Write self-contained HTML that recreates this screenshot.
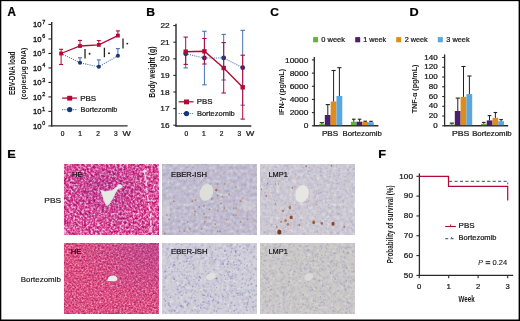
<!DOCTYPE html>
<html><head><meta charset="utf-8"><style>
html,body{margin:0;padding:0;background:#fff;}
svg{display:block;will-change:transform;}
text{font-family:"Liberation Sans",sans-serif;}
</style></head><body>
<svg width="520" height="321" viewBox="0 0 520 321">
<rect x="0" y="0" width="520" height="321" fill="#fff"/>
<text x="7.61" y="15.6" font-size="12.03" font-weight="bold" font-style="normal" fill="#000" textLength="8.41" lengthAdjust="spacingAndGlyphs" stroke="#000" stroke-width="0.24" >A</text>
<text x="146.21" y="15.5" font-size="11.74" font-weight="bold" font-style="normal" fill="#000" textLength="8.76" lengthAdjust="spacingAndGlyphs" stroke="#000" stroke-width="0.24" >B</text>
<text x="270.32" y="15.6" font-size="11.71" font-weight="bold" font-style="normal" fill="#000" textLength="8.6" lengthAdjust="spacingAndGlyphs" stroke="#000" stroke-width="0.24" >C</text>
<text x="409.58" y="15.5" font-size="11.74" font-weight="bold" font-style="normal" fill="#000" textLength="9.16" lengthAdjust="spacingAndGlyphs" stroke="#000" stroke-width="0.24" >D</text>
<text x="7.17" y="158.1" font-size="11.74" font-weight="bold" font-style="normal" fill="#000" textLength="8.5" lengthAdjust="spacingAndGlyphs" stroke="#000" stroke-width="0.24" >E</text>
<text x="378.37" y="158" font-size="10.87" font-weight="bold" font-style="normal" fill="#000" textLength="7.79" lengthAdjust="spacingAndGlyphs" stroke="#000" stroke-width="0.24" >F</text>
<line x1="51.7" y1="21.9" x2="51.7" y2="126.4" stroke="#2a2a2a" stroke-width="1.4" />
<line x1="51" y1="125.9" x2="127.6" y2="125.9" stroke="#2a2a2a" stroke-width="1.4" />
<line x1="48.4" y1="125.9" x2="51.7" y2="125.9" stroke="#2a2a2a" stroke-width="1.1" />
<text x="32.93" y="128.65" font-size="7.86" font-weight="normal" font-style="normal" fill="#1a1a1a" textLength="8.5" lengthAdjust="spacingAndGlyphs" stroke="#1a1a1a" stroke-width="0.38" >10</text>
<text x="42.29" y="125" font-size="5.29" font-weight="normal" font-style="normal" fill="#1a1a1a" textLength="2.93" lengthAdjust="spacingAndGlyphs" stroke="#1a1a1a" stroke-width="0.3" >0</text>
<line x1="48.4" y1="111.41" x2="51.7" y2="111.41" stroke="#2a2a2a" stroke-width="1.1" />
<text x="32.93" y="114.16" font-size="7.86" font-weight="normal" font-style="normal" fill="#1a1a1a" textLength="8.5" lengthAdjust="spacingAndGlyphs" stroke="#1a1a1a" stroke-width="0.38" >10</text>
<text x="42.06" y="110.51" font-size="5.36" font-weight="normal" font-style="normal" fill="#1a1a1a" textLength="3.23" lengthAdjust="spacingAndGlyphs" stroke="#1a1a1a" stroke-width="0.3" >1</text>
<line x1="48.4" y1="96.92" x2="51.7" y2="96.92" stroke="#2a2a2a" stroke-width="1.1" />
<text x="32.93" y="99.67" font-size="7.86" font-weight="normal" font-style="normal" fill="#1a1a1a" textLength="8.5" lengthAdjust="spacingAndGlyphs" stroke="#1a1a1a" stroke-width="0.38" >10</text>
<text x="42.23" y="96.02" font-size="5.29" font-weight="normal" font-style="normal" fill="#1a1a1a" textLength="3.06" lengthAdjust="spacingAndGlyphs" stroke="#1a1a1a" stroke-width="0.3" >2</text>
<line x1="48.4" y1="82.43" x2="51.7" y2="82.43" stroke="#2a2a2a" stroke-width="1.1" />
<text x="32.93" y="85.18" font-size="7.86" font-weight="normal" font-style="normal" fill="#1a1a1a" textLength="8.5" lengthAdjust="spacingAndGlyphs" stroke="#1a1a1a" stroke-width="0.38" >10</text>
<text x="42.29" y="81.53" font-size="5.29" font-weight="normal" font-style="normal" fill="#1a1a1a" textLength="2.96" lengthAdjust="spacingAndGlyphs" stroke="#1a1a1a" stroke-width="0.3" >3</text>
<line x1="48.4" y1="67.94" x2="51.7" y2="67.94" stroke="#2a2a2a" stroke-width="1.1" />
<text x="32.93" y="70.69" font-size="7.86" font-weight="normal" font-style="normal" fill="#1a1a1a" textLength="8.5" lengthAdjust="spacingAndGlyphs" stroke="#1a1a1a" stroke-width="0.38" >10</text>
<text x="42.38" y="67.04" font-size="5.36" font-weight="normal" font-style="normal" fill="#1a1a1a" textLength="2.78" lengthAdjust="spacingAndGlyphs" stroke="#1a1a1a" stroke-width="0.3" >4</text>
<line x1="48.4" y1="53.45" x2="51.7" y2="53.45" stroke="#2a2a2a" stroke-width="1.1" />
<text x="32.93" y="56.2" font-size="7.86" font-weight="normal" font-style="normal" fill="#1a1a1a" textLength="8.5" lengthAdjust="spacingAndGlyphs" stroke="#1a1a1a" stroke-width="0.38" >10</text>
<text x="42.29" y="52.55" font-size="5.36" font-weight="normal" font-style="normal" fill="#1a1a1a" textLength="2.93" lengthAdjust="spacingAndGlyphs" stroke="#1a1a1a" stroke-width="0.3" >5</text>
<line x1="48.4" y1="38.96" x2="51.7" y2="38.96" stroke="#2a2a2a" stroke-width="1.1" />
<text x="32.93" y="41.71" font-size="7.86" font-weight="normal" font-style="normal" fill="#1a1a1a" textLength="8.5" lengthAdjust="spacingAndGlyphs" stroke="#1a1a1a" stroke-width="0.38" >10</text>
<text x="42.23" y="38.06" font-size="5.29" font-weight="normal" font-style="normal" fill="#1a1a1a" textLength="3.02" lengthAdjust="spacingAndGlyphs" stroke="#1a1a1a" stroke-width="0.3" >6</text>
<line x1="48.4" y1="24.47" x2="51.7" y2="24.47" stroke="#2a2a2a" stroke-width="1.1" />
<text x="32.93" y="27.22" font-size="7.86" font-weight="normal" font-style="normal" fill="#1a1a1a" textLength="8.5" lengthAdjust="spacingAndGlyphs" stroke="#1a1a1a" stroke-width="0.38" >10</text>
<text x="42.23" y="23.57" font-size="5.36" font-weight="normal" font-style="normal" fill="#1a1a1a" textLength="3.06" lengthAdjust="spacingAndGlyphs" stroke="#1a1a1a" stroke-width="0.3" >7</text>
<text transform="translate(15.2,95.12) rotate(-90)" x="0" y="0" font-size="8.55" font-weight="bold" fill="#1a1a1a" textLength="43.65" lengthAdjust="spacingAndGlyphs" stroke="#1a1a1a" stroke-width="0.0">EBV-DNA load</text>
<text transform="translate(25.9,99.43) rotate(-90)" x="0" y="0" font-size="8" font-weight="bold" fill="#1a1a1a" textLength="51.66" lengthAdjust="spacingAndGlyphs" stroke="#1a1a1a" stroke-width="0.0">(copies/μg DNA)</text>
<text x="60.77" y="135.9" font-size="6.29" font-weight="normal" font-style="normal" fill="#1a1a1a" textLength="3.67" lengthAdjust="spacingAndGlyphs" stroke="#1a1a1a" stroke-width="0.24" >0</text>
<text x="78.36" y="135.9" font-size="6.38" font-weight="normal" font-style="normal" fill="#1a1a1a" textLength="3.72" lengthAdjust="spacingAndGlyphs" stroke="#1a1a1a" stroke-width="0.24" >1</text>
<text x="96.17" y="135.9" font-size="6.29" font-weight="normal" font-style="normal" fill="#1a1a1a" textLength="3.67" lengthAdjust="spacingAndGlyphs" stroke="#1a1a1a" stroke-width="0.24" >2</text>
<text x="113.98" y="135.9" font-size="6.29" font-weight="normal" font-style="normal" fill="#1a1a1a" textLength="3.67" lengthAdjust="spacingAndGlyphs" stroke="#1a1a1a" stroke-width="0.24" >3</text>
<text x="122.56" y="136.2" font-size="7.25" font-weight="normal" font-style="normal" fill="#1a1a1a" textLength="8.28" lengthAdjust="spacingAndGlyphs" stroke="#1a1a1a" stroke-width="0.24" >W</text>
<polyline points="61.1,53.5 80,62.8 98.8,66.8 117.9,55.7" fill="none" stroke="#4a6fb0" stroke-width="1.1" stroke-dasharray="1 1.2"/>
<line x1="80" y1="62.8" x2="80" y2="57.8" stroke="#4a6fb0" stroke-width="1.0" />
<line x1="78" y1="57.8" x2="82" y2="57.8" stroke="#4a6fb0" stroke-width="1.1" />
<circle cx="80" cy="62.8" r="2.05" fill="#17367a"/>
<line x1="98.8" y1="66.8" x2="98.8" y2="59.9" stroke="#4a6fb0" stroke-width="1.0" />
<line x1="96.8" y1="59.9" x2="100.8" y2="59.9" stroke="#4a6fb0" stroke-width="1.1" />
<circle cx="98.8" cy="66.8" r="2.05" fill="#17367a"/>
<line x1="117.9" y1="55.7" x2="117.9" y2="48.6" stroke="#4a6fb0" stroke-width="1.0" />
<line x1="115.9" y1="48.6" x2="119.9" y2="48.6" stroke="#4a6fb0" stroke-width="1.1" />
<circle cx="117.9" cy="55.7" r="2.05" fill="#17367a"/>
<polyline points="61.1,53.5 80,46 98.8,44.9 117.9,35.6" fill="none" stroke="#b20a36" stroke-width="1.3"/>
<line x1="61.1" y1="53.5" x2="61.1" y2="49.3" stroke="#b20a36" stroke-width="1.0" />
<line x1="59.1" y1="49.3" x2="63.1" y2="49.3" stroke="#b20a36" stroke-width="1.1" />
<line x1="80" y1="46" x2="80" y2="40.4" stroke="#b20a36" stroke-width="1.0" />
<line x1="78" y1="40.4" x2="82" y2="40.4" stroke="#b20a36" stroke-width="1.1" />
<line x1="98.8" y1="44.9" x2="98.8" y2="40.6" stroke="#b20a36" stroke-width="1.0" />
<line x1="96.8" y1="40.6" x2="100.8" y2="40.6" stroke="#b20a36" stroke-width="1.1" />
<line x1="117.9" y1="35.6" x2="117.9" y2="30.9" stroke="#b20a36" stroke-width="1.0" />
<line x1="115.9" y1="30.9" x2="119.9" y2="30.9" stroke="#b20a36" stroke-width="1.1" />
<line x1="61.1" y1="53.5" x2="61.1" y2="64.5" stroke="#b20a36" stroke-width="1.0" />
<line x1="59.1" y1="64.5" x2="63.1" y2="64.5" stroke="#b20a36" stroke-width="1.1" />
<rect x="59.2" y="51.6" width="3.8" height="3.8" fill="#b20a36" />
<rect x="78.1" y="44.1" width="3.8" height="3.8" fill="#b20a36" />
<rect x="96.9" y="43" width="3.8" height="3.8" fill="#b20a36" />
<rect x="116" y="33.7" width="3.8" height="3.8" fill="#b20a36" />
<line x1="85" y1="48.9" x2="85" y2="58.5" stroke="#222" stroke-width="1.3" />
<circle cx="89.6" cy="53.8" r="0.95" fill="#222"/>
<line x1="104.4" y1="47.7" x2="104.4" y2="57.2" stroke="#222" stroke-width="1.3" />
<circle cx="109" cy="53.2" r="0.95" fill="#222"/>
<line x1="123" y1="38.4" x2="123" y2="48.6" stroke="#222" stroke-width="1.3" />
<circle cx="127.3" cy="43.6" r="0.95" fill="#222"/>
<line x1="62.2" y1="98.1" x2="76.9" y2="98.1" stroke="#b20a36" stroke-width="1.3" />
<rect x="67.2" y="95.8" width="5" height="4.8" fill="#b20a36" />
<text x="80.16" y="100.6" font-size="7.43" font-weight="normal" font-style="normal" fill="#1a1a1a" textLength="16.01" lengthAdjust="spacingAndGlyphs" stroke="#1a1a1a" stroke-width="0.24" >PBS</text>
<line x1="62.2" y1="109.6" x2="76.9" y2="109.6" stroke="#4a6fb0" stroke-width="1.1" stroke-dasharray="1 1.2"/>
<circle cx="69.7" cy="109.6" r="2.65" fill="#17367a"/>
<text x="80.62" y="112" font-size="7.59" font-weight="normal" font-style="normal" fill="#1a1a1a" textLength="36.79" lengthAdjust="spacingAndGlyphs" stroke="#1a1a1a" stroke-width="0.24" >Bortezomib</text>
<line x1="176" y1="23.7" x2="176" y2="126.6" stroke="#2a2a2a" stroke-width="1.4" />
<line x1="175.3" y1="126" x2="251.3" y2="126" stroke="#2a2a2a" stroke-width="1.4" />
<line x1="173.3" y1="125.2" x2="176" y2="125.2" stroke="#2a2a2a" stroke-width="1.1" />
<text x="160.41" y="127.85" font-size="7.71" font-weight="normal" font-style="normal" fill="#1a1a1a" textLength="9.18" lengthAdjust="spacingAndGlyphs" stroke="#1a1a1a" stroke-width="0.24" >16</text>
<line x1="173.3" y1="108.6" x2="176" y2="108.6" stroke="#2a2a2a" stroke-width="1.1" />
<text x="160.32" y="111.25" font-size="7.83" font-weight="normal" font-style="normal" fill="#1a1a1a" textLength="9.31" lengthAdjust="spacingAndGlyphs" stroke="#1a1a1a" stroke-width="0.24" >17</text>
<line x1="173.3" y1="92" x2="176" y2="92" stroke="#2a2a2a" stroke-width="1.1" />
<text x="160.37" y="94.65" font-size="7.71" font-weight="normal" font-style="normal" fill="#1a1a1a" textLength="9.18" lengthAdjust="spacingAndGlyphs" stroke="#1a1a1a" stroke-width="0.24" >18</text>
<line x1="173.3" y1="75.4" x2="176" y2="75.4" stroke="#2a2a2a" stroke-width="1.1" />
<text x="160.41" y="78.05" font-size="7.71" font-weight="normal" font-style="normal" fill="#1a1a1a" textLength="9.18" lengthAdjust="spacingAndGlyphs" stroke="#1a1a1a" stroke-width="0.24" >19</text>
<line x1="173.3" y1="58.8" x2="176" y2="58.8" stroke="#2a2a2a" stroke-width="1.1" />
<text x="160.37" y="61.45" font-size="7.71" font-weight="normal" font-style="normal" fill="#1a1a1a" textLength="9.18" lengthAdjust="spacingAndGlyphs" stroke="#1a1a1a" stroke-width="0.24" >20</text>
<line x1="173.3" y1="42.2" x2="176" y2="42.2" stroke="#2a2a2a" stroke-width="1.1" />
<text x="160.45" y="44.85" font-size="7.71" font-weight="normal" font-style="normal" fill="#1a1a1a" textLength="9.18" lengthAdjust="spacingAndGlyphs" stroke="#1a1a1a" stroke-width="0.24" >21</text>
<line x1="173.3" y1="25.6" x2="176" y2="25.6" stroke="#2a2a2a" stroke-width="1.1" />
<text x="160.45" y="28.25" font-size="7.71" font-weight="normal" font-style="normal" fill="#1a1a1a" textLength="9.18" lengthAdjust="spacingAndGlyphs" stroke="#1a1a1a" stroke-width="0.24" >22</text>
<text transform="translate(154.8,97.64) rotate(-90)" x="0" y="0" font-size="9.1" font-weight="bold" fill="#1a1a1a" textLength="51.08" lengthAdjust="spacingAndGlyphs" stroke="#1a1a1a" stroke-width="0.0">Body weight (g)</text>
<text x="184.47" y="135.9" font-size="6.29" font-weight="normal" font-style="normal" fill="#1a1a1a" textLength="3.67" lengthAdjust="spacingAndGlyphs" stroke="#1a1a1a" stroke-width="0.24" >0</text>
<text x="202.06" y="135.9" font-size="6.38" font-weight="normal" font-style="normal" fill="#1a1a1a" textLength="3.72" lengthAdjust="spacingAndGlyphs" stroke="#1a1a1a" stroke-width="0.24" >1</text>
<text x="219.77" y="135.9" font-size="6.29" font-weight="normal" font-style="normal" fill="#1a1a1a" textLength="3.67" lengthAdjust="spacingAndGlyphs" stroke="#1a1a1a" stroke-width="0.24" >2</text>
<text x="237.58" y="135.9" font-size="6.29" font-weight="normal" font-style="normal" fill="#1a1a1a" textLength="3.67" lengthAdjust="spacingAndGlyphs" stroke="#1a1a1a" stroke-width="0.24" >3</text>
<text x="245.96" y="136.2" font-size="7.25" font-weight="normal" font-style="normal" fill="#1a1a1a" textLength="8.28" lengthAdjust="spacingAndGlyphs" stroke="#1a1a1a" stroke-width="0.24" >W</text>
<polyline points="185.7,53.8 204.4,58 223.7,57.9 242.7,67.7" fill="none" stroke="#4a6fb0" stroke-width="1.1" stroke-dasharray="1 1.2"/>
<line x1="185.7" y1="53.8" x2="185.7" y2="67.9" stroke="#4a6fb0" stroke-width="1.0" />
<line x1="183.5" y1="67.9" x2="187.9" y2="67.9" stroke="#4a6fb0" stroke-width="1.1" />
<circle cx="185.7" cy="53.8" r="2.4" fill="#17367a"/>
<line x1="204.4" y1="31.3" x2="204.4" y2="84.8" stroke="#4a6fb0" stroke-width="1.0" />
<line x1="202.2" y1="31.3" x2="206.6" y2="31.3" stroke="#4a6fb0" stroke-width="1.1" />
<line x1="202.2" y1="84.8" x2="206.6" y2="84.8" stroke="#4a6fb0" stroke-width="1.1" />
<circle cx="204.4" cy="58" r="2.4" fill="#17367a"/>
<line x1="223.7" y1="34.4" x2="223.7" y2="80" stroke="#4a6fb0" stroke-width="1.0" />
<line x1="221.5" y1="34.4" x2="225.9" y2="34.4" stroke="#4a6fb0" stroke-width="1.1" />
<line x1="221.5" y1="80" x2="225.9" y2="80" stroke="#4a6fb0" stroke-width="1.1" />
<circle cx="223.7" cy="57.9" r="2.4" fill="#17367a"/>
<line x1="242.7" y1="30.3" x2="242.7" y2="105.2" stroke="#4a6fb0" stroke-width="1.0" />
<line x1="240.5" y1="30.3" x2="244.9" y2="30.3" stroke="#4a6fb0" stroke-width="1.1" />
<line x1="240.5" y1="105.2" x2="244.9" y2="105.2" stroke="#4a6fb0" stroke-width="1.1" />
<circle cx="242.7" cy="67.7" r="2.4" fill="#17367a"/>
<polyline points="185.7,51.7 204.4,51.3 223.7,68 242.7,87.3" fill="none" stroke="#b20a36" stroke-width="1.4"/>
<line x1="185.7" y1="37.1" x2="185.7" y2="64.4" stroke="#b20a36" stroke-width="1.0" />
<line x1="183.5" y1="37.1" x2="187.9" y2="37.1" stroke="#b20a36" stroke-width="1.1" />
<line x1="183.5" y1="64.4" x2="187.9" y2="64.4" stroke="#b20a36" stroke-width="1.1" />
<rect x="183.5" y="49.5" width="4.4" height="4.4" fill="#b20a36" />
<line x1="204.4" y1="38.5" x2="204.4" y2="64" stroke="#b20a36" stroke-width="1.0" />
<line x1="202.2" y1="38.5" x2="206.6" y2="38.5" stroke="#b20a36" stroke-width="1.1" />
<line x1="202.2" y1="64" x2="206.6" y2="64" stroke="#b20a36" stroke-width="1.1" />
<rect x="202.2" y="49.1" width="4.4" height="4.4" fill="#b20a36" />
<line x1="223.7" y1="42.6" x2="223.7" y2="93" stroke="#b20a36" stroke-width="1.0" />
<line x1="221.5" y1="42.6" x2="225.9" y2="42.6" stroke="#b20a36" stroke-width="1.1" />
<line x1="221.5" y1="93" x2="225.9" y2="93" stroke="#b20a36" stroke-width="1.1" />
<rect x="221.5" y="65.8" width="4.4" height="4.4" fill="#b20a36" />
<line x1="242.7" y1="55.2" x2="242.7" y2="119.1" stroke="#b20a36" stroke-width="1.0" />
<line x1="240.5" y1="55.2" x2="244.9" y2="55.2" stroke="#b20a36" stroke-width="1.1" />
<line x1="240.5" y1="119.1" x2="244.9" y2="119.1" stroke="#b20a36" stroke-width="1.1" />
<rect x="240.5" y="85.1" width="4.4" height="4.4" fill="#b20a36" />
<line x1="178.7" y1="101.8" x2="193.5" y2="101.8" stroke="#b20a36" stroke-width="1.3" />
<rect x="184" y="99.5" width="5" height="4.8" fill="#b20a36" />
<text x="196.87" y="104.4" font-size="7.57" font-weight="normal" font-style="normal" fill="#1a1a1a" textLength="15.69" lengthAdjust="spacingAndGlyphs" stroke="#1a1a1a" stroke-width="0.24" >PBS</text>
<line x1="178.7" y1="113.5" x2="193.5" y2="113.5" stroke="#4a6fb0" stroke-width="1.1" stroke-dasharray="1 1.2"/>
<circle cx="186.5" cy="113.6" r="2.65" fill="#17367a"/>
<text x="196.9" y="116.1" font-size="7.59" font-weight="normal" font-style="normal" fill="#1a1a1a" textLength="37.82" lengthAdjust="spacingAndGlyphs" stroke="#1a1a1a" stroke-width="0.24" >Bortezomib</text>
<line x1="314.3" y1="56.9" x2="314.3" y2="126.2" stroke="#2a2a2a" stroke-width="1.3" />
<line x1="313.7" y1="125.7" x2="378.4" y2="125.7" stroke="#2a2a2a" stroke-width="1.4" />
<line x1="311.9" y1="125.8" x2="314.3" y2="125.8" stroke="#2a2a2a" stroke-width="1.1" />
<text x="303.67" y="128.4" font-size="7.5" font-weight="normal" font-style="normal" fill="#1a1a1a" textLength="4.67" lengthAdjust="spacingAndGlyphs" stroke="#1a1a1a" stroke-width="0.24" >0</text>
<line x1="311.9" y1="112.62" x2="314.3" y2="112.62" stroke="#2a2a2a" stroke-width="1.1" />
<text x="289.65" y="115.22" font-size="7.5" font-weight="normal" font-style="normal" fill="#1a1a1a" textLength="18.69" lengthAdjust="spacingAndGlyphs" stroke="#1a1a1a" stroke-width="0.24" >2000</text>
<line x1="311.9" y1="99.44" x2="314.3" y2="99.44" stroke="#2a2a2a" stroke-width="1.1" />
<text x="289.65" y="102.04" font-size="7.5" font-weight="normal" font-style="normal" fill="#1a1a1a" textLength="18.69" lengthAdjust="spacingAndGlyphs" stroke="#1a1a1a" stroke-width="0.24" >4000</text>
<line x1="311.9" y1="86.26" x2="314.3" y2="86.26" stroke="#2a2a2a" stroke-width="1.1" />
<text x="289.65" y="88.86" font-size="7.5" font-weight="normal" font-style="normal" fill="#1a1a1a" textLength="18.69" lengthAdjust="spacingAndGlyphs" stroke="#1a1a1a" stroke-width="0.24" >6000</text>
<line x1="311.9" y1="73.08" x2="314.3" y2="73.08" stroke="#2a2a2a" stroke-width="1.1" />
<text x="289.65" y="75.68" font-size="7.5" font-weight="normal" font-style="normal" fill="#1a1a1a" textLength="18.69" lengthAdjust="spacingAndGlyphs" stroke="#1a1a1a" stroke-width="0.24" >8000</text>
<line x1="311.9" y1="59.9" x2="314.3" y2="59.9" stroke="#2a2a2a" stroke-width="1.1" />
<text x="284.98" y="62.5" font-size="7.5" font-weight="normal" font-style="normal" fill="#1a1a1a" textLength="23.36" lengthAdjust="spacingAndGlyphs" stroke="#1a1a1a" stroke-width="0.24" >10000</text>
<text transform="translate(283.9,114.96) rotate(-90)" x="0" y="0" font-size="7.45" font-weight="bold" fill="#1a1a1a" textLength="46.01" lengthAdjust="spacingAndGlyphs" stroke="#1a1a1a" stroke-width="0.0">IFN-γ (pg/mL)</text>
<rect x="319" y="124.2" width="5.82" height="1" fill="#6aaf3d" />
<rect x="324.82" y="115" width="5.82" height="10.2" fill="#4a1f6e" />
<rect x="330.64" y="101.5" width="5.82" height="23.7" fill="#e08c1c" />
<rect x="336.46" y="96" width="5.82" height="29.2" fill="#5aa6df" />
<line x1="321.9" y1="122.7" x2="321.9" y2="124.2" stroke="#222" stroke-width="1.0" />
<line x1="319.8" y1="122.7" x2="324" y2="122.7" stroke="#222" stroke-width="1.1" />
<line x1="327.8" y1="104.6" x2="327.8" y2="115" stroke="#222" stroke-width="1.0" />
<line x1="325.7" y1="104.6" x2="329.9" y2="104.6" stroke="#222" stroke-width="1.1" />
<line x1="333.6" y1="70.5" x2="333.6" y2="101.5" stroke="#222" stroke-width="1.0" />
<line x1="331.5" y1="70.5" x2="335.7" y2="70.5" stroke="#222" stroke-width="1.1" />
<line x1="339.4" y1="67.7" x2="339.4" y2="96" stroke="#222" stroke-width="1.0" />
<line x1="337.3" y1="67.7" x2="341.5" y2="67.7" stroke="#222" stroke-width="1.1" />
<rect x="350.9" y="121.7" width="5.72" height="3.5" fill="#6aaf3d" />
<rect x="356.62" y="121.7" width="5.72" height="3.5" fill="#4a1f6e" />
<rect x="362.34" y="121.9" width="5.72" height="3.3" fill="#e08c1c" />
<rect x="368.06" y="122.2" width="5.72" height="3" fill="#5aa6df" />
<line x1="353.8" y1="119.2" x2="353.8" y2="121.7" stroke="#222" stroke-width="1.0" />
<line x1="352" y1="119.2" x2="355.6" y2="119.2" stroke="#222" stroke-width="1.1" />
<line x1="359.6" y1="119.2" x2="359.6" y2="121.7" stroke="#222" stroke-width="1.0" />
<line x1="357.8" y1="119.2" x2="361.4" y2="119.2" stroke="#222" stroke-width="1.1" />
<line x1="365.2" y1="121.2" x2="365.2" y2="121.9" stroke="#222" stroke-width="1.0" />
<line x1="363.4" y1="121.2" x2="367" y2="121.2" stroke="#222" stroke-width="1.1" />
<line x1="371" y1="121.3" x2="371" y2="122.2" stroke="#222" stroke-width="1.0" />
<line x1="369.2" y1="121.3" x2="372.8" y2="121.3" stroke="#222" stroke-width="1.1" />
<text x="321.95" y="136.2" font-size="7.43" font-weight="normal" font-style="normal" fill="#1a1a1a" textLength="16.22" lengthAdjust="spacingAndGlyphs" stroke="#1a1a1a" stroke-width="0.24" >PBS</text>
<text x="342.48" y="136.3" font-size="7.59" font-weight="normal" font-style="normal" fill="#1a1a1a" textLength="39.46" lengthAdjust="spacingAndGlyphs" stroke="#1a1a1a" stroke-width="0.24" >Bortezomib</text>
<rect x="313.1" y="37.1" width="5" height="5.2" fill="#6aaf3d" />
<text x="321.3" y="42.4" font-size="7.45" font-weight="normal" font-style="normal" fill="#1a1a1a" textLength="23.59" lengthAdjust="spacingAndGlyphs" stroke="#1a1a1a" stroke-width="0.24" >0 week</text>
<rect x="355.2" y="37.1" width="5" height="5.2" fill="#4a1f6e" />
<text x="363.16" y="42.4" font-size="7.45" font-weight="normal" font-style="normal" fill="#1a1a1a" textLength="22.93" lengthAdjust="spacingAndGlyphs" stroke="#1a1a1a" stroke-width="0.24" >1 week</text>
<rect x="396.2" y="37.1" width="5" height="5.2" fill="#e08c1c" />
<text x="404.74" y="42.4" font-size="7.45" font-weight="normal" font-style="normal" fill="#1a1a1a" textLength="22.95" lengthAdjust="spacingAndGlyphs" stroke="#1a1a1a" stroke-width="0.24" >2 week</text>
<rect x="437.8" y="37.1" width="5" height="5.2" fill="#5aa6df" />
<text x="446.31" y="42.4" font-size="7.45" font-weight="normal" font-style="normal" fill="#1a1a1a" textLength="23.28" lengthAdjust="spacingAndGlyphs" stroke="#1a1a1a" stroke-width="0.24" >3 week</text>
<line x1="444.6" y1="54.4" x2="444.6" y2="126.2" stroke="#2a2a2a" stroke-width="1.3" />
<line x1="444" y1="125.7" x2="508.2" y2="125.7" stroke="#2a2a2a" stroke-width="1.4" />
<line x1="442.2" y1="125.8" x2="444.6" y2="125.8" stroke="#2a2a2a" stroke-width="1.1" />
<text x="433.18" y="127.9" font-size="7.14" font-weight="normal" font-style="normal" fill="#1a1a1a" textLength="4.45" lengthAdjust="spacingAndGlyphs" stroke="#1a1a1a" stroke-width="0.24" >0</text>
<line x1="442.2" y1="116.04" x2="444.6" y2="116.04" stroke="#2a2a2a" stroke-width="1.1" />
<text x="428.74" y="118.14" font-size="7.14" font-weight="normal" font-style="normal" fill="#1a1a1a" textLength="8.9" lengthAdjust="spacingAndGlyphs" stroke="#1a1a1a" stroke-width="0.24" >20</text>
<line x1="442.2" y1="106.28" x2="444.6" y2="106.28" stroke="#2a2a2a" stroke-width="1.1" />
<text x="428.74" y="108.38" font-size="7.14" font-weight="normal" font-style="normal" fill="#1a1a1a" textLength="8.9" lengthAdjust="spacingAndGlyphs" stroke="#1a1a1a" stroke-width="0.24" >40</text>
<line x1="442.2" y1="96.52" x2="444.6" y2="96.52" stroke="#2a2a2a" stroke-width="1.1" />
<text x="428.74" y="98.62" font-size="7.14" font-weight="normal" font-style="normal" fill="#1a1a1a" textLength="8.9" lengthAdjust="spacingAndGlyphs" stroke="#1a1a1a" stroke-width="0.24" >60</text>
<line x1="442.2" y1="86.76" x2="444.6" y2="86.76" stroke="#2a2a2a" stroke-width="1.1" />
<text x="428.74" y="88.86" font-size="7.14" font-weight="normal" font-style="normal" fill="#1a1a1a" textLength="8.9" lengthAdjust="spacingAndGlyphs" stroke="#1a1a1a" stroke-width="0.24" >80</text>
<line x1="442.2" y1="77" x2="444.6" y2="77" stroke="#2a2a2a" stroke-width="1.1" />
<text x="424.3" y="79.1" font-size="7.14" font-weight="normal" font-style="normal" fill="#1a1a1a" textLength="13.35" lengthAdjust="spacingAndGlyphs" stroke="#1a1a1a" stroke-width="0.24" >100</text>
<line x1="442.2" y1="67.24" x2="444.6" y2="67.24" stroke="#2a2a2a" stroke-width="1.1" />
<text x="424.3" y="69.34" font-size="7.14" font-weight="normal" font-style="normal" fill="#1a1a1a" textLength="13.35" lengthAdjust="spacingAndGlyphs" stroke="#1a1a1a" stroke-width="0.24" >120</text>
<line x1="442.2" y1="57.48" x2="444.6" y2="57.48" stroke="#2a2a2a" stroke-width="1.1" />
<text x="424.3" y="59.58" font-size="7.14" font-weight="normal" font-style="normal" fill="#1a1a1a" textLength="13.35" lengthAdjust="spacingAndGlyphs" stroke="#1a1a1a" stroke-width="0.24" >140</text>
<text transform="translate(417.3,113.27) rotate(-90)" x="0" y="0" font-size="8" font-weight="bold" fill="#1a1a1a" textLength="48.63" lengthAdjust="spacingAndGlyphs" stroke="#1a1a1a" stroke-width="0.0">TNF-α (pg/mL)</text>
<rect x="449" y="124.6" width="5.8" height="0.6" fill="#6aaf3d" />
<rect x="454.8" y="111" width="5.8" height="14.2" fill="#4a1f6e" />
<rect x="460.6" y="96.9" width="5.8" height="28.3" fill="#e08c1c" />
<rect x="466.4" y="94.1" width="5.8" height="31.1" fill="#5aa6df" />
<line x1="451.9" y1="123.1" x2="451.9" y2="124.6" stroke="#222" stroke-width="1.0" />
<line x1="449.8" y1="123.1" x2="454" y2="123.1" stroke="#222" stroke-width="1.1" />
<line x1="457.8" y1="98.1" x2="457.8" y2="111" stroke="#222" stroke-width="1.0" />
<line x1="455.7" y1="98.1" x2="459.9" y2="98.1" stroke="#222" stroke-width="1.1" />
<line x1="463.5" y1="66.5" x2="463.5" y2="96.9" stroke="#222" stroke-width="1.0" />
<line x1="461.4" y1="66.5" x2="465.6" y2="66.5" stroke="#222" stroke-width="1.1" />
<line x1="469.4" y1="76" x2="469.4" y2="94.1" stroke="#222" stroke-width="1.0" />
<line x1="467.3" y1="76" x2="471.5" y2="76" stroke="#222" stroke-width="1.1" />
<rect x="481" y="123.8" width="5.75" height="1.4" fill="#6aaf3d" />
<rect x="486.75" y="120.4" width="5.75" height="4.8" fill="#4a1f6e" />
<rect x="492.5" y="117.9" width="5.75" height="7.3" fill="#e08c1c" />
<rect x="498.25" y="121.2" width="5.75" height="4" fill="#5aa6df" />
<line x1="483.8" y1="122.4" x2="483.8" y2="123.8" stroke="#222" stroke-width="1.0" />
<line x1="482" y1="122.4" x2="485.6" y2="122.4" stroke="#222" stroke-width="1.1" />
<line x1="489.5" y1="115.6" x2="489.5" y2="120.4" stroke="#222" stroke-width="1.0" />
<line x1="487.7" y1="115.6" x2="491.3" y2="115.6" stroke="#222" stroke-width="1.1" />
<line x1="495.4" y1="112.5" x2="495.4" y2="117.9" stroke="#222" stroke-width="1.0" />
<line x1="493.6" y1="112.5" x2="497.2" y2="112.5" stroke="#222" stroke-width="1.1" />
<line x1="501.1" y1="119.6" x2="501.1" y2="121.2" stroke="#222" stroke-width="1.0" />
<line x1="499.3" y1="119.6" x2="502.9" y2="119.6" stroke="#222" stroke-width="1.1" />
<text x="451.9" y="135.9" font-size="7.43" font-weight="normal" font-style="normal" fill="#1a1a1a" textLength="17.5" lengthAdjust="spacingAndGlyphs" stroke="#1a1a1a" stroke-width="0.24" >PBS</text>
<text x="472.17" y="136" font-size="7.31" font-weight="normal" font-style="normal" fill="#1a1a1a" textLength="39.56" lengthAdjust="spacingAndGlyphs" stroke="#1a1a1a" stroke-width="0.24" >Bortezomib</text>
<line x1="419.4" y1="173.4" x2="419.4" y2="276" stroke="#2a2a2a" stroke-width="1.3" />
<line x1="418.8" y1="275.4" x2="513.2" y2="275.4" stroke="#2a2a2a" stroke-width="1.3" />
<line x1="416.4" y1="275.4" x2="419.4" y2="275.4" stroke="#2a2a2a" stroke-width="1.1" />
<text x="403.87" y="277.65" font-size="7.29" font-weight="normal" font-style="normal" fill="#1a1a1a" textLength="9.08" lengthAdjust="spacingAndGlyphs" stroke="#1a1a1a" stroke-width="0.24" >50</text>
<line x1="416.4" y1="255.58" x2="419.4" y2="255.58" stroke="#2a2a2a" stroke-width="1.1" />
<text x="403.87" y="257.83" font-size="7.29" font-weight="normal" font-style="normal" fill="#1a1a1a" textLength="9.08" lengthAdjust="spacingAndGlyphs" stroke="#1a1a1a" stroke-width="0.24" >60</text>
<line x1="416.4" y1="235.76" x2="419.4" y2="235.76" stroke="#2a2a2a" stroke-width="1.1" />
<text x="403.87" y="238.01" font-size="7.29" font-weight="normal" font-style="normal" fill="#1a1a1a" textLength="9.08" lengthAdjust="spacingAndGlyphs" stroke="#1a1a1a" stroke-width="0.24" >70</text>
<line x1="416.4" y1="215.94" x2="419.4" y2="215.94" stroke="#2a2a2a" stroke-width="1.1" />
<text x="403.87" y="218.19" font-size="7.29" font-weight="normal" font-style="normal" fill="#1a1a1a" textLength="9.08" lengthAdjust="spacingAndGlyphs" stroke="#1a1a1a" stroke-width="0.24" >80</text>
<line x1="416.4" y1="196.12" x2="419.4" y2="196.12" stroke="#2a2a2a" stroke-width="1.1" />
<text x="403.87" y="198.37" font-size="7.29" font-weight="normal" font-style="normal" fill="#1a1a1a" textLength="9.08" lengthAdjust="spacingAndGlyphs" stroke="#1a1a1a" stroke-width="0.24" >90</text>
<line x1="416.4" y1="176.3" x2="419.4" y2="176.3" stroke="#2a2a2a" stroke-width="1.1" />
<text x="399.34" y="178.55" font-size="7.29" font-weight="normal" font-style="normal" fill="#1a1a1a" textLength="13.62" lengthAdjust="spacingAndGlyphs" stroke="#1a1a1a" stroke-width="0.24" >100</text>
<line x1="419.2" y1="275.4" x2="419.2" y2="278.2" stroke="#2a2a2a" stroke-width="1.1" />
<text x="417.06" y="288.9" font-size="7.71" font-weight="normal" font-style="normal" fill="#1a1a1a" textLength="4.29" lengthAdjust="spacingAndGlyphs" stroke="#1a1a1a" stroke-width="0.24" >0</text>
<line x1="448.7" y1="275.4" x2="448.7" y2="278.2" stroke="#2a2a2a" stroke-width="1.1" />
<text x="446.43" y="288.9" font-size="7.83" font-weight="normal" font-style="normal" fill="#1a1a1a" textLength="4.35" lengthAdjust="spacingAndGlyphs" stroke="#1a1a1a" stroke-width="0.24" >1</text>
<line x1="478.1" y1="275.4" x2="478.1" y2="278.2" stroke="#2a2a2a" stroke-width="1.1" />
<text x="475.96" y="288.9" font-size="7.71" font-weight="normal" font-style="normal" fill="#1a1a1a" textLength="4.29" lengthAdjust="spacingAndGlyphs" stroke="#1a1a1a" stroke-width="0.24" >2</text>
<line x1="507.7" y1="275.4" x2="507.7" y2="278.2" stroke="#2a2a2a" stroke-width="1.1" />
<text x="505.58" y="288.9" font-size="7.71" font-weight="normal" font-style="normal" fill="#1a1a1a" textLength="4.29" lengthAdjust="spacingAndGlyphs" stroke="#1a1a1a" stroke-width="0.24" >3</text>
<text x="458.5" y="302" font-size="9.52" font-weight="bold" font-style="normal" fill="#1a1a1a" textLength="16.1" lengthAdjust="spacingAndGlyphs" stroke="#1a1a1a" stroke-width="0" >Week</text>
<text transform="translate(392.5,263.21) rotate(-90)" x="0" y="0" font-size="8.55" font-weight="bold" fill="#1a1a1a" textLength="77.83" lengthAdjust="spacingAndGlyphs" stroke="#1a1a1a" stroke-width="0.0">Probability of survival (%)</text>
<path d="M448.5,176.4 V181.3 H507.7 V184.2" fill="none" stroke="#4a6fb0" stroke-width="1.2" stroke-dasharray="3.1 2.35"/>
<path d="M419.4,176.4 H448.5 V186.3 H507.7 V200.6" fill="none" stroke="#b20a36" stroke-width="1.2"/>
<line x1="445.2" y1="226.5" x2="455.9" y2="226.5" stroke="#b20a36" stroke-width="1.1" />
<line x1="450.6" y1="224.4" x2="450.6" y2="226.5" stroke="#b20a36" stroke-width="0.9" />
<text x="458.56" y="227.7" font-size="7.14" font-weight="normal" font-style="normal" fill="#1a1a1a" textLength="16.01" lengthAdjust="spacingAndGlyphs" stroke="#1a1a1a" stroke-width="0.24" >PBS</text>
<path d="M445.2,238.6 H454.4" stroke="#4a6fb0" stroke-width="1.1" stroke-dasharray="3 2.4" fill="none"/>
<line x1="451.5" y1="236.9" x2="451.5" y2="238.6" stroke="#4a6fb0" stroke-width="0.9" />
<text x="458.6" y="239.6" font-size="7.45" font-weight="normal" font-style="normal" fill="#1a1a1a" textLength="37.82" lengthAdjust="spacingAndGlyphs" stroke="#1a1a1a" stroke-width="0.24" >Bortezomib</text>
<text x="478.29" y="265" font-size="7.25" font-weight="normal" font-style="italic" fill="#1a1a1a" textLength="4.66" lengthAdjust="spacingAndGlyphs" stroke="#1a1a1a" stroke-width="0.1" >P</text>
<rect x="485.6" y="261" width="4.6" height="1.2" fill="#444" />
<rect x="485.6" y="263" width="4.6" height="1.2" fill="#444" />
<text x="492.6" y="265" font-size="7.14" font-weight="normal" font-style="normal" fill="#1a1a1a" textLength="14.64" lengthAdjust="spacingAndGlyphs" stroke="#1a1a1a" stroke-width="0.12" >0.24</text>
<defs>
<filter id="fHE0" x="0" y="0" width="1" height="1" filterUnits="objectBoundingBox" color-interpolation-filters="sRGB">
<feTurbulence type="fractalNoise" baseFrequency="0.45" numOctaves="3" seed="3" result="n"/>
<feColorMatrix in="n" type="matrix" values="1.7 0 0 0 -0.350  1.7 0 0 0 -0.350  1.7 0 0 0 -0.350  0 0 0 0 1"/>
<feComponentTransfer><feFuncR type="table" tableValues="0.569 0.753 0.835 0.890 0.933 0.965"/><feFuncG type="table" tableValues="0.098 0.157 0.243 0.424 0.635 0.839"/><feFuncB type="table" tableValues="0.412 0.490 0.549 0.667 0.800 0.918"/></feComponentTransfer>
<feGaussianBlur stdDeviation="0.35"/>
</filter>
<filter id="fHE1" x="0" y="0" width="1" height="1" filterUnits="objectBoundingBox" color-interpolation-filters="sRGB">
<feTurbulence type="fractalNoise" baseFrequency="0.55" numOctaves="3" seed="7" result="n"/>
<feColorMatrix in="n" type="matrix" values="1.6 0 0 0 -0.300  1.6 0 0 0 -0.300  1.6 0 0 0 -0.300  0 0 0 0 1"/>
<feComponentTransfer><feFuncR type="table" tableValues="0.647 0.804 0.871 0.910 0.941"/><feFuncG type="table" tableValues="0.149 0.216 0.314 0.463 0.647"/><feFuncB type="table" tableValues="0.392 0.451 0.510 0.612 0.745"/></feComponentTransfer>
<feGaussianBlur stdDeviation="0.35"/>
</filter>
<filter id="fEB0" x="0" y="0" width="1" height="1" filterUnits="objectBoundingBox" color-interpolation-filters="sRGB">
<feTurbulence type="fractalNoise" baseFrequency="0.3" numOctaves="2" seed="11" result="n"/>
<feColorMatrix in="n" type="matrix" values="1.6 0 0 0 -0.300  1.6 0 0 0 -0.300  1.6 0 0 0 -0.300  0 0 0 0 1"/>
<feComponentTransfer><feFuncR type="table" tableValues="0.675 0.722 0.757 0.788 0.839"/><feFuncG type="table" tableValues="0.659 0.706 0.741 0.773 0.827"/><feFuncB type="table" tableValues="0.761 0.792 0.816 0.831 0.863"/></feComponentTransfer>
<feGaussianBlur stdDeviation="0.6"/>
</filter>
<filter id="fEB1" x="0" y="0" width="1" height="1" filterUnits="objectBoundingBox" color-interpolation-filters="sRGB">
<feTurbulence type="fractalNoise" baseFrequency="0.3" numOctaves="2" seed="13" result="n"/>
<feColorMatrix in="n" type="matrix" values="1.6 0 0 0 -0.300  1.6 0 0 0 -0.300  1.6 0 0 0 -0.300  0 0 0 0 1"/>
<feComponentTransfer><feFuncR type="table" tableValues="0.753 0.792 0.816 0.839 0.875"/><feFuncG type="table" tableValues="0.745 0.784 0.808 0.831 0.867"/><feFuncB type="table" tableValues="0.808 0.831 0.847 0.859 0.886"/></feComponentTransfer>
<feGaussianBlur stdDeviation="0.6"/>
</filter>
<filter id="fLM0" x="0" y="0" width="1" height="1" filterUnits="objectBoundingBox" color-interpolation-filters="sRGB">
<feTurbulence type="fractalNoise" baseFrequency="0.3" numOctaves="2" seed="17" result="n"/>
<feColorMatrix in="n" type="matrix" values="1.6 0 0 0 -0.300  1.6 0 0 0 -0.300  1.6 0 0 0 -0.300  0 0 0 0 1"/>
<feComponentTransfer><feFuncR type="table" tableValues="0.753 0.784 0.808 0.831 0.871"/><feFuncG type="table" tableValues="0.737 0.769 0.792 0.816 0.859"/><feFuncB type="table" tableValues="0.796 0.816 0.831 0.847 0.875"/></feComponentTransfer>
<feGaussianBlur stdDeviation="0.6"/>
</filter>
<filter id="fLM1" x="0" y="0" width="1" height="1" filterUnits="objectBoundingBox" color-interpolation-filters="sRGB">
<feTurbulence type="fractalNoise" baseFrequency="0.3" numOctaves="2" seed="19" result="n"/>
<feColorMatrix in="n" type="matrix" values="1.6 0 0 0 -0.300  1.6 0 0 0 -0.300  1.6 0 0 0 -0.300  0 0 0 0 1"/>
<feComponentTransfer><feFuncR type="table" tableValues="0.753 0.780 0.800 0.820 0.855"/><feFuncG type="table" tableValues="0.741 0.769 0.788 0.808 0.843"/><feFuncB type="table" tableValues="0.745 0.773 0.788 0.808 0.839"/></feComponentTransfer>
<feGaussianBlur stdDeviation="0.6"/>
</filter>
</defs>
<rect x="64.0" y="164.0" width="94.80" height="70.40" filter="url(#fHE0)"/>
<rect x="162.5" y="164.0" width="94.50" height="70.40" filter="url(#fEB0)"/>
<rect x="260.7" y="164.0" width="94.30" height="70.40" filter="url(#fLM0)"/>
<rect x="64.0" y="243.5" width="94.80" height="70.20" filter="url(#fHE1)"/>
<rect x="162.5" y="243.5" width="94.50" height="70.20" filter="url(#fEB1)"/>
<rect x="260.7" y="243.5" width="94.30" height="70.20" filter="url(#fLM1)"/>
<defs><radialGradient id="gHB" cx="1" cy="0" r="0.9"><stop offset="0" stop-color="#8a3aa0" stop-opacity="0.35"/><stop offset="1" stop-color="#8a3aa0" stop-opacity="0"/></radialGradient><radialGradient id="gHP" cx="0.45" cy="0.35" r="0.55"><stop offset="0" stop-color="#7a1a80" stop-opacity="0.25"/><stop offset="1" stop-color="#7a1a80" stop-opacity="0"/></radialGradient></defs>
<rect x="64.0" y="243.5" width="94.80" height="70.20" fill="url(#gHB)"/>
<rect x="64.0" y="164.0" width="94.80" height="70.40" fill="url(#gHP)"/>
<path d="M255.9 192.5h0M246.2 177.2h0M254.9 169.1h0M248.6 217.2h0" stroke="(172, 168, 194)" stroke-width="1.05" stroke-linecap="round" stroke-opacity="0.3"/><path d="M168.2 211.1h0M251.8 214.9h0M249.6 172.6h0M204.4 178.6h0M203.3 203.3h0M209.1 196.2h0M237.2 185.6h0M196.6 228.8h0M219.7 175.7h0" stroke="(172, 168, 194)" stroke-width="1.05" stroke-linecap="round" stroke-opacity="0.4"/><path d="M225.2 174.6h0M212.7 177.9h0M249.6 173.1h0M185.4 220.3h0M202.0 189.6h0M222.6 171.1h0M193.2 228.9h0M248.7 211.1h0" stroke="(172, 168, 194)" stroke-width="1.05" stroke-linecap="round" stroke-opacity="0.5"/><path d="M182.1 181.0h0M174.1 212.8h0M226.7 172.8h0M206.3 194.8h0M248.2 169.0h0M230.1 182.3h0M213.8 180.9h0M233.2 207.0h0" stroke="(172, 168, 194)" stroke-width="1.05" stroke-linecap="round" stroke-opacity="0.6"/><path d="M244.3 206.4h0M216.9 197.9h0M234.2 229.1h0M168.1 223.6h0" stroke="(172, 168, 194)" stroke-width="1.05" stroke-linecap="round" stroke-opacity="0.7"/><path d="M238.4 169.7h0M204.7 228.7h0M214.5 220.0h0M172.7 178.6h0" stroke="(172, 168, 194)" stroke-width="1.20" stroke-linecap="round" stroke-opacity="0.3"/><path d="M200.5 168.3h0M233.8 217.0h0M202.0 193.5h0M215.0 211.2h0M164.2 228.3h0M225.4 214.2h0" stroke="(172, 168, 194)" stroke-width="1.20" stroke-linecap="round" stroke-opacity="0.4"/><path d="M173.7 197.0h0M197.1 166.0h0M205.0 214.8h0" stroke="(172, 168, 194)" stroke-width="1.20" stroke-linecap="round" stroke-opacity="0.5"/><path d="M189.2 232.3h0M185.2 186.6h0M164.7 220.7h0M184.9 224.4h0M226.4 217.4h0" stroke="(172, 168, 194)" stroke-width="1.20" stroke-linecap="round" stroke-opacity="0.6"/><path d="M209.9 192.0h0M253.7 229.9h0M179.8 171.7h0M219.0 177.5h0" stroke="(172, 168, 194)" stroke-width="1.20" stroke-linecap="round" stroke-opacity="0.7"/><path d="M166.5 190.4h0M232.5 181.9h0M252.3 171.7h0" stroke="(172, 168, 194)" stroke-width="1.35" stroke-linecap="round" stroke-opacity="0.3"/><path d="M180.4 199.1h0M247.2 220.2h0M166.6 208.8h0M186.8 203.7h0M228.2 215.9h0M167.7 188.7h0M186.4 176.8h0M214.1 189.6h0M166.1 219.8h0M232.5 188.2h0M238.0 167.8h0M169.6 211.8h0M221.5 193.6h0M203.5 187.1h0M194.0 228.7h0M224.2 227.2h0M218.2 206.3h0" stroke="(172, 168, 194)" stroke-width="1.35" stroke-linecap="round" stroke-opacity="0.4"/><path d="M185.3 219.4h0M178.0 173.5h0M225.0 212.5h0M240.7 228.0h0M226.2 178.2h0M192.0 220.4h0M183.6 212.6h0" stroke="(172, 168, 194)" stroke-width="1.35" stroke-linecap="round" stroke-opacity="0.5"/><path d="M207.1 204.1h0M252.2 195.8h0M243.2 216.5h0M237.5 184.4h0M254.1 202.3h0M220.1 232.0h0M224.0 197.4h0" stroke="(172, 168, 194)" stroke-width="1.35" stroke-linecap="round" stroke-opacity="0.6"/><path d="M210.9 177.2h0M198.7 224.8h0M247.5 180.6h0M241.4 205.9h0M180.7 233.3h0" stroke="(172, 168, 194)" stroke-width="1.35" stroke-linecap="round" stroke-opacity="0.7"/><path d="M183.0 176.8h0M232.3 184.3h0" stroke="(172, 168, 194)" stroke-width="1.50" stroke-linecap="round" stroke-opacity="0.3"/><path d="M195.3 166.0h0M248.7 214.8h0M238.8 214.1h0M175.4 228.3h0M204.9 177.5h0M187.5 215.5h0M210.7 209.1h0M200.4 210.6h0M172.1 207.2h0" stroke="(172, 168, 194)" stroke-width="1.50" stroke-linecap="round" stroke-opacity="0.4"/><path d="M177.8 228.1h0M204.4 173.5h0M172.9 203.0h0M237.9 207.4h0M228.0 207.7h0M195.6 225.7h0M214.3 208.6h0M245.4 168.8h0" stroke="(172, 168, 194)" stroke-width="1.50" stroke-linecap="round" stroke-opacity="0.5"/><path d="M221.1 231.4h0M202.0 188.9h0M183.7 233.0h0M238.3 175.5h0M167.6 174.8h0" stroke="(172, 168, 194)" stroke-width="1.50" stroke-linecap="round" stroke-opacity="0.6"/><path d="M244.3 212.5h0M248.1 222.2h0M228.2 218.0h0M196.4 213.6h0M244.4 180.4h0" stroke="(172, 168, 194)" stroke-width="1.50" stroke-linecap="round" stroke-opacity="0.7"/><path d="M252.2 198.3h0M250.6 206.2h0M228.7 216.8h0M202.7 203.9h0M246.1 169.4h0M239.7 220.8h0" stroke="(172, 168, 194)" stroke-width="1.65" stroke-linecap="round" stroke-opacity="0.3"/><path d="M173.5 187.2h0M188.4 204.5h0M205.6 228.0h0M189.1 211.6h0M193.9 183.3h0M190.7 177.6h0M196.9 179.6h0M242.0 211.7h0M172.9 174.4h0M247.1 230.5h0M190.4 218.5h0" stroke="(172, 168, 194)" stroke-width="1.65" stroke-linecap="round" stroke-opacity="0.4"/><path d="M221.6 194.0h0M233.1 168.8h0M172.6 209.1h0M213.5 179.6h0M168.6 189.6h0M253.2 175.0h0M222.4 193.5h0M167.2 214.6h0M230.9 209.8h0M183.9 227.4h0M216.9 175.1h0" stroke="(172, 168, 194)" stroke-width="1.65" stroke-linecap="round" stroke-opacity="0.5"/><path d="M235.7 198.8h0M239.8 171.8h0M229.9 221.0h0M246.6 178.8h0M223.0 204.3h0M230.5 215.7h0M171.8 191.6h0M183.1 203.0h0M180.6 186.0h0M216.6 223.3h0" stroke="(172, 168, 194)" stroke-width="1.65" stroke-linecap="round" stroke-opacity="0.6"/><path d="M220.8 199.3h0M249.8 221.2h0M204.4 209.8h0M227.4 227.0h0M213.4 188.4h0M170.9 200.4h0" stroke="(172, 168, 194)" stroke-width="1.65" stroke-linecap="round" stroke-opacity="0.7"/><path d="M242.9 167.6h0M187.0 221.2h0" stroke="(172, 168, 194)" stroke-width="1.80" stroke-linecap="round" stroke-opacity="0.4"/><path d="M226.9 218.7h0M240.1 189.0h0M187.8 198.5h0M241.2 229.5h0M243.4 205.4h0M188.8 173.7h0" stroke="(172, 168, 194)" stroke-width="1.80" stroke-linecap="round" stroke-opacity="0.5"/><path d="M227.2 208.9h0M240.3 203.3h0M164.9 181.4h0M232.4 232.5h0" stroke="(172, 168, 194)" stroke-width="1.80" stroke-linecap="round" stroke-opacity="0.6"/><path d="M198.4 221.7h0" stroke="(172, 168, 194)" stroke-width="1.80" stroke-linecap="round" stroke-opacity="0.7"/><path d="M183.7 218.8h0M252.8 232.6h0" stroke="(184, 180, 202)" stroke-width="1.05" stroke-linecap="round" stroke-opacity="0.3"/><path d="M213.4 175.1h0M214.2 218.1h0M191.6 215.9h0M196.2 201.7h0M191.8 199.3h0M165.7 192.1h0" stroke="(184, 180, 202)" stroke-width="1.05" stroke-linecap="round" stroke-opacity="0.4"/><path d="M191.6 208.1h0M199.7 178.9h0M251.6 224.4h0M188.8 164.6h0" stroke="(184, 180, 202)" stroke-width="1.05" stroke-linecap="round" stroke-opacity="0.5"/><path d="M250.4 192.5h0M188.5 166.8h0M236.6 170.7h0" stroke="(184, 180, 202)" stroke-width="1.05" stroke-linecap="round" stroke-opacity="0.6"/><path d="M184.1 175.6h0M233.0 202.0h0M181.7 211.5h0M256.3 202.9h0" stroke="(184, 180, 202)" stroke-width="1.05" stroke-linecap="round" stroke-opacity="0.7"/><path d="M225.6 177.2h0M164.7 185.6h0" stroke="(184, 180, 202)" stroke-width="1.20" stroke-linecap="round" stroke-opacity="0.3"/><path d="M185.5 191.5h0M200.7 201.8h0M179.5 193.8h0M171.3 231.0h0M240.8 182.0h0M233.0 177.8h0M224.7 179.8h0M236.7 208.9h0" stroke="(184, 180, 202)" stroke-width="1.20" stroke-linecap="round" stroke-opacity="0.4"/><path d="M241.1 171.7h0M250.1 225.8h0M202.6 213.8h0M233.0 233.5h0M203.4 187.7h0M165.3 226.1h0M214.9 230.8h0M230.5 198.1h0M244.1 169.1h0M189.6 233.8h0M198.2 177.3h0M169.2 214.1h0" stroke="(184, 180, 202)" stroke-width="1.20" stroke-linecap="round" stroke-opacity="0.5"/><path d="M237.5 171.2h0M175.7 227.2h0M198.3 224.0h0M163.6 184.3h0M177.2 216.2h0M188.3 228.2h0M191.5 216.4h0M236.5 191.6h0" stroke="(184, 180, 202)" stroke-width="1.20" stroke-linecap="round" stroke-opacity="0.6"/><path d="M193.1 175.2h0M180.0 196.4h0" stroke="(184, 180, 202)" stroke-width="1.20" stroke-linecap="round" stroke-opacity="0.7"/><path d="M171.1 173.0h0M214.6 167.6h0M169.3 209.5h0M222.4 180.8h0M213.6 180.4h0" stroke="(184, 180, 202)" stroke-width="1.35" stroke-linecap="round" stroke-opacity="0.3"/><path d="M223.0 222.4h0M196.9 165.4h0M220.0 191.4h0M230.1 229.5h0M185.8 169.2h0M216.0 224.0h0M213.7 217.4h0M190.3 206.4h0M176.9 196.7h0" stroke="(184, 180, 202)" stroke-width="1.35" stroke-linecap="round" stroke-opacity="0.4"/><path d="M236.6 232.2h0M211.3 201.4h0M244.0 169.6h0M198.3 176.7h0M235.0 188.2h0M237.7 200.6h0M233.4 191.9h0M181.7 229.9h0M252.4 184.2h0M177.4 172.5h0M196.6 178.8h0M200.9 207.7h0M183.7 226.0h0" stroke="(184, 180, 202)" stroke-width="1.35" stroke-linecap="round" stroke-opacity="0.5"/><path d="M247.3 199.3h0M202.7 191.4h0M168.2 199.5h0M250.4 223.0h0M181.0 168.3h0M224.2 206.0h0M220.5 198.4h0M214.3 225.6h0" stroke="(184, 180, 202)" stroke-width="1.35" stroke-linecap="round" stroke-opacity="0.6"/><path d="M177.1 175.9h0M221.9 200.3h0M174.7 226.4h0" stroke="(184, 180, 202)" stroke-width="1.35" stroke-linecap="round" stroke-opacity="0.7"/><path d="M202.9 172.8h0M243.9 167.3h0M170.8 166.6h0" stroke="(184, 180, 202)" stroke-width="1.50" stroke-linecap="round" stroke-opacity="0.3"/><path d="M243.7 192.9h0M236.5 208.0h0M201.0 232.7h0M237.1 193.1h0M178.0 192.4h0M222.0 202.0h0M171.2 222.6h0" stroke="(184, 180, 202)" stroke-width="1.50" stroke-linecap="round" stroke-opacity="0.4"/><path d="M215.6 184.4h0M229.4 189.3h0M215.3 194.3h0M189.4 218.2h0M183.1 228.6h0M215.6 173.3h0M191.6 194.6h0M210.1 194.5h0M241.3 205.0h0M226.2 206.8h0M242.9 169.3h0M179.6 229.4h0" stroke="(184, 180, 202)" stroke-width="1.50" stroke-linecap="round" stroke-opacity="0.5"/><path d="M230.6 191.5h0M220.5 207.2h0M168.0 189.8h0M176.9 209.7h0M197.5 233.3h0M213.5 167.0h0M226.5 215.3h0M202.4 181.9h0M234.7 222.0h0M171.0 192.3h0M215.2 211.9h0" stroke="(184, 180, 202)" stroke-width="1.50" stroke-linecap="round" stroke-opacity="0.6"/><path d="M183.4 189.7h0M225.8 182.0h0M248.6 165.9h0M228.3 196.8h0M217.1 198.9h0M176.3 209.5h0" stroke="(184, 180, 202)" stroke-width="1.50" stroke-linecap="round" stroke-opacity="0.7"/><path d="M178.0 184.2h0M226.1 232.6h0M177.6 170.3h0M245.3 174.8h0M240.6 183.9h0M230.5 191.9h0M210.1 184.7h0" stroke="(184, 180, 202)" stroke-width="1.65" stroke-linecap="round" stroke-opacity="0.3"/><path d="M212.2 166.8h0M212.3 221.7h0M216.1 226.1h0M211.1 199.7h0M234.7 181.7h0M179.2 224.3h0" stroke="(184, 180, 202)" stroke-width="1.65" stroke-linecap="round" stroke-opacity="0.4"/><path d="M232.6 193.5h0M237.6 188.0h0M179.1 228.1h0M201.9 199.8h0M239.3 178.1h0M241.7 222.1h0M186.9 211.3h0M213.4 232.5h0M249.3 211.9h0M236.5 170.9h0M240.9 186.6h0M198.4 217.1h0M187.2 171.1h0" stroke="(184, 180, 202)" stroke-width="1.65" stroke-linecap="round" stroke-opacity="0.5"/><path d="M248.4 215.6h0M220.4 168.4h0M183.6 196.0h0M170.8 192.2h0M196.7 185.9h0M180.1 214.9h0M254.1 183.4h0" stroke="(184, 180, 202)" stroke-width="1.65" stroke-linecap="round" stroke-opacity="0.6"/><path d="M198.5 211.7h0M178.3 177.3h0" stroke="(184, 180, 202)" stroke-width="1.65" stroke-linecap="round" stroke-opacity="0.7"/><path d="M168.7 185.9h0M227.1 229.1h0M226.4 191.3h0M185.5 212.5h0M228.0 203.8h0M243.7 180.7h0" stroke="(184, 180, 202)" stroke-width="1.80" stroke-linecap="round" stroke-opacity="0.4"/><path d="M163.3 199.1h0M184.3 213.1h0M206.0 225.2h0" stroke="(184, 180, 202)" stroke-width="1.80" stroke-linecap="round" stroke-opacity="0.5"/><path d="M221.3 174.0h0M238.4 198.9h0M208.9 189.1h0M218.8 204.2h0" stroke="(184, 180, 202)" stroke-width="1.80" stroke-linecap="round" stroke-opacity="0.6"/><path d="M224.1 166.2h0M206.4 203.5h0M176.5 221.0h0" stroke="(184, 180, 202)" stroke-width="1.80" stroke-linecap="round" stroke-opacity="0.7"/><path d="M167.4 209.8h0M221.8 167.3h0" stroke="(193, 189, 208)" stroke-width="1.05" stroke-linecap="round" stroke-opacity="0.3"/><path d="M186.4 178.7h0M254.2 172.0h0M227.0 168.8h0M243.1 233.0h0M238.2 214.4h0M179.4 176.5h0M174.3 207.6h0" stroke="(193, 189, 208)" stroke-width="1.05" stroke-linecap="round" stroke-opacity="0.4"/><path d="M206.4 208.1h0M183.8 225.1h0M186.4 212.8h0M233.8 217.8h0M180.8 183.5h0M208.0 196.0h0" stroke="(193, 189, 208)" stroke-width="1.05" stroke-linecap="round" stroke-opacity="0.5"/><path d="M209.4 181.6h0M193.6 223.9h0M232.9 228.3h0M182.6 174.6h0" stroke="(193, 189, 208)" stroke-width="1.05" stroke-linecap="round" stroke-opacity="0.6"/><path d="M213.7 224.8h0M212.6 183.2h0" stroke="(193, 189, 208)" stroke-width="1.05" stroke-linecap="round" stroke-opacity="0.7"/><path d="M246.2 189.9h0M195.6 204.4h0M197.2 214.7h0" stroke="(193, 189, 208)" stroke-width="1.20" stroke-linecap="round" stroke-opacity="0.3"/><path d="M196.2 182.1h0M222.2 221.1h0M193.5 180.7h0M227.2 180.3h0M218.8 214.5h0M176.9 221.8h0M234.9 185.0h0M200.8 224.6h0" stroke="(193, 189, 208)" stroke-width="1.20" stroke-linecap="round" stroke-opacity="0.4"/><path d="M225.0 179.4h0M213.9 197.4h0M191.7 202.5h0M247.0 184.4h0M209.9 202.0h0M219.4 170.0h0M234.4 209.6h0M188.4 189.9h0" stroke="(193, 189, 208)" stroke-width="1.20" stroke-linecap="round" stroke-opacity="0.5"/><path d="M203.8 169.4h0M169.4 205.3h0M243.0 202.2h0M163.2 214.4h0M222.0 187.1h0M164.4 195.6h0M165.2 196.6h0M217.5 217.1h0M224.2 166.6h0M238.1 188.2h0" stroke="(193, 189, 208)" stroke-width="1.20" stroke-linecap="round" stroke-opacity="0.6"/><path d="M181.0 211.6h0M200.5 213.6h0M255.4 199.1h0M194.2 216.7h0M176.7 219.2h0M217.2 198.7h0M200.8 211.7h0M249.5 198.4h0" stroke="(193, 189, 208)" stroke-width="1.20" stroke-linecap="round" stroke-opacity="0.7"/><path d="M239.6 232.9h0M166.7 195.4h0M170.7 210.2h0M237.1 177.4h0" stroke="(193, 189, 208)" stroke-width="1.35" stroke-linecap="round" stroke-opacity="0.3"/><path d="M236.2 187.3h0M207.5 206.6h0M245.4 190.8h0M238.1 201.1h0M172.2 165.5h0M231.0 165.7h0M180.9 232.4h0M252.9 206.3h0" stroke="(193, 189, 208)" stroke-width="1.35" stroke-linecap="round" stroke-opacity="0.4"/><path d="M244.2 166.0h0M246.9 192.6h0M251.0 224.9h0M244.7 208.3h0M236.0 230.3h0M229.4 217.6h0M254.9 191.9h0M190.8 169.5h0M255.8 232.1h0" stroke="(193, 189, 208)" stroke-width="1.35" stroke-linecap="round" stroke-opacity="0.5"/><path d="M168.4 193.1h0M225.6 205.8h0M175.0 203.1h0M218.6 212.4h0M218.8 212.5h0M198.1 206.3h0M217.5 179.2h0M176.1 176.8h0M204.9 188.7h0M196.1 194.0h0M210.4 179.4h0M176.7 178.0h0M217.7 208.2h0M181.4 205.0h0M186.5 221.3h0M223.0 191.0h0M196.5 215.7h0" stroke="(193, 189, 208)" stroke-width="1.35" stroke-linecap="round" stroke-opacity="0.6"/><path d="M164.7 173.8h0M243.6 166.3h0M199.3 196.3h0M231.1 175.2h0M203.8 177.8h0M178.7 216.1h0" stroke="(193, 189, 208)" stroke-width="1.35" stroke-linecap="round" stroke-opacity="0.7"/><path d="M243.7 228.5h0M176.3 166.4h0M219.8 216.9h0" stroke="(193, 189, 208)" stroke-width="1.50" stroke-linecap="round" stroke-opacity="0.3"/><path d="M243.1 196.3h0M190.9 222.6h0M199.5 191.8h0M175.5 171.4h0M232.3 219.3h0M174.4 192.4h0M189.1 226.3h0M178.2 176.7h0" stroke="(193, 189, 208)" stroke-width="1.50" stroke-linecap="round" stroke-opacity="0.4"/><path d="M169.3 202.6h0M225.2 211.5h0M232.2 195.0h0M234.7 175.3h0M224.9 191.4h0M222.3 175.0h0M167.2 227.9h0" stroke="(193, 189, 208)" stroke-width="1.50" stroke-linecap="round" stroke-opacity="0.5"/><path d="M245.1 213.7h0M237.1 229.6h0M253.8 215.0h0M204.2 169.3h0M251.2 233.6h0M164.1 185.8h0M208.9 220.4h0M193.3 213.9h0" stroke="(193, 189, 208)" stroke-width="1.50" stroke-linecap="round" stroke-opacity="0.6"/><path d="M175.9 175.9h0M214.8 219.1h0M176.3 172.6h0M200.8 207.3h0" stroke="(193, 189, 208)" stroke-width="1.50" stroke-linecap="round" stroke-opacity="0.7"/><path d="M181.7 209.0h0M198.8 196.9h0M198.1 227.5h0M189.1 183.8h0M165.5 182.9h0" stroke="(193, 189, 208)" stroke-width="1.65" stroke-linecap="round" stroke-opacity="0.3"/><path d="M167.9 224.1h0M227.0 229.5h0M176.5 220.4h0M183.1 212.5h0M165.0 227.1h0M239.3 202.7h0M210.8 186.6h0" stroke="(193, 189, 208)" stroke-width="1.65" stroke-linecap="round" stroke-opacity="0.4"/><path d="M193.5 216.2h0M214.3 186.6h0M185.6 184.0h0M177.5 196.3h0M250.3 187.6h0M191.5 229.3h0M233.4 191.5h0M250.7 201.6h0M245.2 166.1h0M210.5 169.3h0" stroke="(193, 189, 208)" stroke-width="1.65" stroke-linecap="round" stroke-opacity="0.5"/><path d="M191.5 172.2h0M173.5 198.4h0M218.3 232.6h0M186.1 173.1h0M229.1 232.9h0M253.4 193.2h0M251.7 212.8h0M223.8 180.1h0" stroke="(193, 189, 208)" stroke-width="1.65" stroke-linecap="round" stroke-opacity="0.6"/><path d="M177.1 212.0h0M222.1 197.7h0M181.5 183.4h0M245.7 167.6h0" stroke="(193, 189, 208)" stroke-width="1.65" stroke-linecap="round" stroke-opacity="0.7"/><path d="M193.9 176.4h0M182.1 165.6h0M190.6 220.1h0" stroke="(193, 189, 208)" stroke-width="1.80" stroke-linecap="round" stroke-opacity="0.3"/><path d="M246.2 174.2h0M179.6 209.5h0M240.9 213.8h0M254.1 195.6h0M214.5 204.1h0" stroke="(193, 189, 208)" stroke-width="1.80" stroke-linecap="round" stroke-opacity="0.4"/><path d="M217.3 178.0h0M203.3 188.6h0M172.3 224.0h0M183.6 174.1h0M247.2 206.5h0M228.5 170.5h0" stroke="(193, 189, 208)" stroke-width="1.80" stroke-linecap="round" stroke-opacity="0.5"/><path d="M245.7 218.4h0M232.0 187.8h0" stroke="(193, 189, 208)" stroke-width="1.80" stroke-linecap="round" stroke-opacity="0.6"/><path d="M234.7 167.0h0M243.8 216.6h0M171.8 216.7h0M201.3 230.8h0M188.9 221.3h0" stroke="(193, 189, 208)" stroke-width="1.80" stroke-linecap="round" stroke-opacity="0.7"/><path d="M197.5 222.3h0" stroke="(201, 197, 212)" stroke-width="1.05" stroke-linecap="round" stroke-opacity="0.3"/><path d="M171.3 183.2h0M208.5 218.0h0M192.1 197.4h0M231.7 165.1h0M165.0 182.5h0M226.6 171.6h0M236.0 221.8h0" stroke="(201, 197, 212)" stroke-width="1.05" stroke-linecap="round" stroke-opacity="0.4"/><path d="M216.4 231.7h0M248.8 209.1h0M245.4 210.0h0M226.7 198.0h0M200.1 193.9h0M213.9 197.1h0M243.1 210.6h0M185.7 207.4h0M248.2 171.6h0" stroke="(201, 197, 212)" stroke-width="1.05" stroke-linecap="round" stroke-opacity="0.5"/><path d="M185.7 184.9h0M171.7 214.5h0M171.4 216.4h0M215.6 185.0h0M244.3 174.2h0M227.5 210.8h0M210.7 222.3h0" stroke="(201, 197, 212)" stroke-width="1.05" stroke-linecap="round" stroke-opacity="0.6"/><path d="M248.5 233.7h0M173.4 172.9h0M170.3 219.1h0M224.6 190.5h0M236.4 171.5h0" stroke="(201, 197, 212)" stroke-width="1.05" stroke-linecap="round" stroke-opacity="0.7"/><path d="M254.6 182.6h0M204.6 222.0h0M192.7 221.8h0M174.5 182.9h0M211.7 170.6h0" stroke="(201, 197, 212)" stroke-width="1.20" stroke-linecap="round" stroke-opacity="0.3"/><path d="M226.2 215.5h0M203.6 168.5h0M253.4 207.7h0M218.0 175.5h0M182.0 197.4h0M205.3 225.3h0M238.4 203.7h0M169.9 226.5h0M206.3 181.4h0" stroke="(201, 197, 212)" stroke-width="1.20" stroke-linecap="round" stroke-opacity="0.4"/><path d="M165.1 209.0h0M224.6 207.5h0M253.2 216.5h0M214.5 180.2h0M201.2 197.7h0M229.8 178.8h0M216.2 187.4h0M191.6 219.5h0M252.2 167.1h0M194.9 195.3h0M196.8 232.8h0" stroke="(201, 197, 212)" stroke-width="1.20" stroke-linecap="round" stroke-opacity="0.5"/><path d="M173.3 211.3h0M200.2 205.8h0M171.5 191.0h0M202.0 184.6h0M250.4 229.1h0" stroke="(201, 197, 212)" stroke-width="1.20" stroke-linecap="round" stroke-opacity="0.6"/><path d="M216.6 184.9h0M193.6 226.3h0M184.9 169.1h0M182.8 233.0h0M211.6 187.3h0" stroke="(201, 197, 212)" stroke-width="1.20" stroke-linecap="round" stroke-opacity="0.7"/><path d="M245.5 191.9h0M218.4 177.6h0M189.6 180.9h0M201.4 223.1h0M249.0 208.3h0M251.2 209.1h0" stroke="(201, 197, 212)" stroke-width="1.35" stroke-linecap="round" stroke-opacity="0.3"/><path d="M235.2 204.8h0M211.2 227.8h0M221.5 204.8h0M179.4 180.6h0M166.4 194.9h0" stroke="(201, 197, 212)" stroke-width="1.35" stroke-linecap="round" stroke-opacity="0.4"/><path d="M224.3 233.1h0M220.8 221.7h0M199.2 224.2h0M208.1 179.0h0M203.9 216.8h0M205.3 174.1h0M166.3 229.9h0" stroke="(201, 197, 212)" stroke-width="1.35" stroke-linecap="round" stroke-opacity="0.5"/><path d="M171.3 217.9h0M184.7 190.9h0M229.2 216.7h0M227.3 232.9h0M255.0 222.6h0M245.5 233.1h0M176.1 187.4h0M231.1 167.6h0M186.8 197.4h0" stroke="(201, 197, 212)" stroke-width="1.35" stroke-linecap="round" stroke-opacity="0.6"/><path d="M236.0 218.5h0M254.0 177.2h0M249.9 178.4h0M196.4 204.2h0" stroke="(201, 197, 212)" stroke-width="1.35" stroke-linecap="round" stroke-opacity="0.7"/><path d="M166.2 164.9h0M175.9 227.3h0M175.4 190.4h0M242.3 218.8h0M250.0 189.0h0M182.9 218.6h0" stroke="(201, 197, 212)" stroke-width="1.50" stroke-linecap="round" stroke-opacity="0.3"/><path d="M248.7 177.4h0M197.3 204.9h0M172.9 202.7h0M176.6 170.9h0M222.5 212.3h0M192.8 168.1h0M164.8 167.3h0M252.7 205.5h0M235.1 189.4h0M203.4 198.3h0M176.6 190.8h0M220.6 207.4h0" stroke="(201, 197, 212)" stroke-width="1.50" stroke-linecap="round" stroke-opacity="0.4"/><path d="M212.1 224.8h0M164.7 221.1h0M209.7 179.0h0M205.2 178.5h0" stroke="(201, 197, 212)" stroke-width="1.50" stroke-linecap="round" stroke-opacity="0.5"/><path d="M169.2 204.5h0M188.0 195.9h0M195.3 167.5h0M193.5 229.6h0M231.6 172.3h0M168.7 232.1h0M179.9 205.8h0M218.7 225.3h0M252.8 233.9h0M230.8 171.2h0" stroke="(201, 197, 212)" stroke-width="1.50" stroke-linecap="round" stroke-opacity="0.6"/><path d="M200.9 218.9h0M215.0 165.1h0M229.2 201.6h0" stroke="(201, 197, 212)" stroke-width="1.50" stroke-linecap="round" stroke-opacity="0.7"/><path d="M179.9 213.1h0M188.8 225.9h0M184.9 227.0h0M232.5 196.3h0" stroke="(201, 197, 212)" stroke-width="1.65" stroke-linecap="round" stroke-opacity="0.3"/><path d="M172.1 202.1h0M163.9 190.0h0M185.4 177.4h0M252.1 174.4h0M235.7 194.3h0M165.0 170.9h0M207.4 169.8h0M209.1 187.8h0M211.8 225.6h0M224.6 222.5h0M223.3 228.1h0" stroke="(201, 197, 212)" stroke-width="1.65" stroke-linecap="round" stroke-opacity="0.4"/><path d="M195.0 171.3h0M246.3 179.8h0M219.8 188.7h0M189.0 205.7h0M184.5 213.3h0M244.9 226.2h0M216.7 215.5h0M172.8 224.7h0" stroke="(201, 197, 212)" stroke-width="1.65" stroke-linecap="round" stroke-opacity="0.5"/><path d="M174.1 213.5h0M231.4 174.1h0M242.6 195.8h0M222.3 207.0h0M178.8 215.3h0M192.6 177.8h0M205.4 172.8h0M229.3 187.5h0M241.7 192.0h0M182.8 211.0h0" stroke="(201, 197, 212)" stroke-width="1.65" stroke-linecap="round" stroke-opacity="0.6"/><path d="M220.3 195.8h0M233.6 171.4h0M212.5 184.2h0" stroke="(201, 197, 212)" stroke-width="1.65" stroke-linecap="round" stroke-opacity="0.7"/><path d="M183.8 221.1h0M215.4 195.8h0" stroke="(201, 197, 212)" stroke-width="1.80" stroke-linecap="round" stroke-opacity="0.3"/><path d="M239.7 197.2h0M176.0 226.0h0M248.5 203.9h0M223.8 228.0h0M187.3 194.2h0" stroke="(201, 197, 212)" stroke-width="1.80" stroke-linecap="round" stroke-opacity="0.4"/><path d="M255.2 178.5h0M193.0 232.3h0M228.9 167.2h0M191.3 183.9h0M205.0 222.1h0M207.5 172.5h0M201.7 196.1h0M172.7 172.4h0M182.1 181.8h0" stroke="(201, 197, 212)" stroke-width="1.80" stroke-linecap="round" stroke-opacity="0.5"/><path d="M217.6 167.6h0M219.7 227.6h0M219.9 184.6h0" stroke="(201, 197, 212)" stroke-width="1.80" stroke-linecap="round" stroke-opacity="0.6"/><path d="M203.2 168.1h0" stroke="(201, 197, 212)" stroke-width="1.80" stroke-linecap="round" stroke-opacity="0.7"/><path d="M202.3 224.1h0M249.7 190.5h0M219.0 214.3h0M219.9 197.7h0" stroke="(214, 211, 220)" stroke-width="1.05" stroke-linecap="round" stroke-opacity="0.3"/><path d="M231.4 170.6h0M247.8 216.3h0M244.1 197.1h0" stroke="(214, 211, 220)" stroke-width="1.05" stroke-linecap="round" stroke-opacity="0.4"/><path d="M179.8 231.5h0M231.8 173.5h0M192.1 218.0h0M169.9 194.4h0" stroke="(214, 211, 220)" stroke-width="1.05" stroke-linecap="round" stroke-opacity="0.5"/><path d="M191.8 223.2h0M237.1 195.1h0M219.5 224.9h0M174.3 182.1h0M233.7 215.0h0" stroke="(214, 211, 220)" stroke-width="1.05" stroke-linecap="round" stroke-opacity="0.6"/><path d="M172.8 201.1h0M203.9 205.2h0" stroke="(214, 211, 220)" stroke-width="1.05" stroke-linecap="round" stroke-opacity="0.7"/><path d="M253.0 200.3h0M194.1 197.5h0" stroke="(214, 211, 220)" stroke-width="1.20" stroke-linecap="round" stroke-opacity="0.3"/><path d="M183.9 219.9h0M217.0 214.7h0M222.0 231.5h0M191.4 207.1h0M214.7 214.6h0M232.5 210.0h0M234.2 179.1h0M240.9 206.8h0" stroke="(214, 211, 220)" stroke-width="1.20" stroke-linecap="round" stroke-opacity="0.4"/><path d="M231.2 175.0h0M179.5 189.6h0M247.8 188.4h0M190.1 205.0h0M249.1 177.4h0M167.3 166.9h0M246.6 183.3h0M219.3 213.8h0M247.9 170.1h0" stroke="(214, 211, 220)" stroke-width="1.20" stroke-linecap="round" stroke-opacity="0.5"/><path d="M168.2 166.7h0M232.8 197.5h0M232.2 231.6h0M193.4 195.5h0M240.6 188.7h0M169.8 230.3h0M242.0 228.8h0M210.0 193.5h0M204.6 182.7h0M222.1 220.6h0" stroke="(214, 211, 220)" stroke-width="1.20" stroke-linecap="round" stroke-opacity="0.6"/><path d="M254.1 216.6h0M183.5 220.9h0M233.7 215.4h0M190.9 207.2h0M253.6 219.3h0" stroke="(214, 211, 220)" stroke-width="1.20" stroke-linecap="round" stroke-opacity="0.7"/><path d="M181.5 214.9h0M208.2 229.6h0M214.3 173.8h0M200.5 198.1h0" stroke="(214, 211, 220)" stroke-width="1.35" stroke-linecap="round" stroke-opacity="0.3"/><path d="M221.6 179.0h0M243.8 219.7h0M200.9 209.0h0M238.0 180.5h0M232.5 232.2h0M163.7 203.3h0M199.6 204.0h0M193.3 217.2h0M181.9 208.6h0M243.3 178.0h0" stroke="(214, 211, 220)" stroke-width="1.35" stroke-linecap="round" stroke-opacity="0.4"/><path d="M220.2 209.0h0M172.7 216.9h0M175.5 172.4h0M201.2 190.0h0" stroke="(214, 211, 220)" stroke-width="1.35" stroke-linecap="round" stroke-opacity="0.5"/><path d="M235.0 216.0h0M250.5 213.3h0M175.5 229.9h0M191.7 198.4h0M182.5 193.4h0M217.8 164.7h0M187.2 187.5h0M243.8 189.7h0M221.8 223.9h0M191.9 171.5h0" stroke="(214, 211, 220)" stroke-width="1.35" stroke-linecap="round" stroke-opacity="0.6"/><path d="M166.5 177.6h0M206.8 175.8h0M250.9 209.9h0M231.4 200.9h0" stroke="(214, 211, 220)" stroke-width="1.35" stroke-linecap="round" stroke-opacity="0.7"/><path d="M250.7 191.2h0M206.9 168.4h0M180.7 223.1h0" stroke="(214, 211, 220)" stroke-width="1.50" stroke-linecap="round" stroke-opacity="0.3"/><path d="M188.5 210.3h0M211.2 171.3h0M213.0 185.8h0M190.2 194.8h0M190.1 218.7h0M220.4 183.1h0M192.3 182.7h0M222.9 194.6h0" stroke="(214, 211, 220)" stroke-width="1.50" stroke-linecap="round" stroke-opacity="0.4"/><path d="M220.4 230.4h0M210.5 216.8h0M249.6 214.1h0M229.3 182.6h0M213.8 180.3h0M203.0 165.2h0M197.9 175.5h0" stroke="(214, 211, 220)" stroke-width="1.50" stroke-linecap="round" stroke-opacity="0.5"/><path d="M244.0 223.7h0M255.0 208.8h0M243.6 200.9h0M213.6 225.2h0M166.3 199.5h0" stroke="(214, 211, 220)" stroke-width="1.50" stroke-linecap="round" stroke-opacity="0.6"/><path d="M232.4 195.2h0M172.3 205.1h0" stroke="(214, 211, 220)" stroke-width="1.50" stroke-linecap="round" stroke-opacity="0.7"/><path d="M238.2 224.4h0M163.3 197.9h0M223.2 224.6h0M193.8 209.0h0M176.1 233.1h0M171.5 182.6h0M208.9 173.8h0" stroke="(214, 211, 220)" stroke-width="1.65" stroke-linecap="round" stroke-opacity="0.3"/><path d="M216.2 176.0h0M185.5 225.0h0M235.5 190.2h0M185.8 208.8h0M238.9 173.3h0M248.0 213.7h0M193.8 220.1h0M252.1 186.7h0M241.8 172.4h0M189.6 174.5h0M209.8 224.5h0M232.3 226.1h0" stroke="(214, 211, 220)" stroke-width="1.65" stroke-linecap="round" stroke-opacity="0.4"/><path d="M176.1 176.9h0M204.9 204.1h0M185.9 232.9h0M207.7 212.5h0M198.8 190.7h0M185.4 166.9h0M168.2 229.2h0M170.4 213.3h0M171.0 170.2h0M185.4 226.9h0M246.5 166.9h0" stroke="(214, 211, 220)" stroke-width="1.65" stroke-linecap="round" stroke-opacity="0.5"/><path d="M195.3 191.0h0M185.5 223.4h0M252.7 175.0h0M242.6 223.1h0M247.6 227.8h0M170.9 202.9h0M242.4 176.3h0M181.2 228.2h0M169.8 183.3h0M173.5 202.0h0M178.1 189.7h0M187.8 196.3h0" stroke="(214, 211, 220)" stroke-width="1.65" stroke-linecap="round" stroke-opacity="0.6"/><path d="M182.1 166.8h0M252.9 216.5h0M234.2 212.1h0M189.1 179.1h0M243.9 191.1h0" stroke="(214, 211, 220)" stroke-width="1.65" stroke-linecap="round" stroke-opacity="0.7"/><path d="M239.1 196.6h0" stroke="(214, 211, 220)" stroke-width="1.80" stroke-linecap="round" stroke-opacity="0.3"/><path d="M239.9 214.7h0M176.4 225.4h0M201.5 203.1h0M207.6 204.1h0M235.5 227.0h0M247.3 224.5h0" stroke="(214, 211, 220)" stroke-width="1.80" stroke-linecap="round" stroke-opacity="0.4"/><path d="M200.2 173.3h0M248.6 185.3h0" stroke="(214, 211, 220)" stroke-width="1.80" stroke-linecap="round" stroke-opacity="0.5"/><path d="M169.4 225.3h0M216.9 192.6h0" stroke="(214, 211, 220)" stroke-width="1.80" stroke-linecap="round" stroke-opacity="0.6"/><path d="M202.0 176.2h0" stroke="(214, 211, 220)" stroke-width="1.80" stroke-linecap="round" stroke-opacity="0.7"/>
<path d="M164.9 265.5h0" stroke="#8480c0" stroke-width="1.05" stroke-linecap="round" stroke-opacity="0.3"/><path d="M222.2 263.6h0M242.0 279.3h0M167.2 296.3h0M208.5 300.9h0M211.1 285.7h0M176.7 284.8h0M211.0 281.5h0M218.9 256.5h0" stroke="#8480c0" stroke-width="1.05" stroke-linecap="round" stroke-opacity="0.4"/><path d="M217.4 255.4h0M238.3 259.7h0M197.7 292.1h0M171.1 254.4h0M167.5 253.7h0" stroke="#8480c0" stroke-width="1.05" stroke-linecap="round" stroke-opacity="0.5"/><path d="M236.3 274.8h0M240.6 245.9h0M182.1 283.6h0M181.2 268.5h0M196.3 297.7h0M179.0 276.6h0M176.5 307.1h0M166.1 268.2h0M246.3 280.7h0" stroke="#8480c0" stroke-width="1.05" stroke-linecap="round" stroke-opacity="0.6"/><path d="M198.0 251.7h0M171.7 311.4h0M186.7 289.9h0M183.8 286.4h0M230.0 305.7h0M256.2 259.6h0M237.4 293.6h0M179.7 302.9h0" stroke="#8480c0" stroke-width="1.05" stroke-linecap="round" stroke-opacity="0.7"/><path d="M212.7 244.7h0M208.0 284.1h0M184.8 311.7h0M173.0 276.4h0M225.3 304.2h0M208.6 303.5h0M190.0 303.9h0" stroke="#8480c0" stroke-width="1.20" stroke-linecap="round" stroke-opacity="0.4"/><path d="M201.8 305.4h0M200.5 308.2h0M254.6 295.1h0M163.5 289.3h0M171.8 289.6h0M193.8 255.2h0M205.3 263.0h0M180.0 291.5h0M200.8 291.7h0M197.6 283.2h0" stroke="#8480c0" stroke-width="1.20" stroke-linecap="round" stroke-opacity="0.5"/><path d="M193.9 279.7h0M243.7 313.1h0M214.6 311.6h0M224.5 275.7h0M232.5 275.5h0" stroke="#8480c0" stroke-width="1.20" stroke-linecap="round" stroke-opacity="0.6"/><path d="M237.2 293.4h0M198.4 305.6h0M248.3 291.2h0M216.7 278.7h0M244.0 252.1h0M181.5 244.6h0" stroke="#8480c0" stroke-width="1.20" stroke-linecap="round" stroke-opacity="0.7"/><path d="M226.9 298.1h0M209.1 284.2h0M190.7 254.6h0" stroke="#8480c0" stroke-width="1.35" stroke-linecap="round" stroke-opacity="0.3"/><path d="M174.1 254.4h0M231.6 250.7h0M190.1 251.9h0M193.3 293.9h0M184.3 278.2h0M211.6 297.4h0M177.0 252.0h0" stroke="#8480c0" stroke-width="1.35" stroke-linecap="round" stroke-opacity="0.4"/><path d="M190.0 302.1h0M181.4 287.8h0M172.6 266.8h0M246.0 244.5h0M231.9 293.3h0M179.1 286.0h0M201.8 274.1h0M209.3 259.1h0" stroke="#8480c0" stroke-width="1.35" stroke-linecap="round" stroke-opacity="0.5"/><path d="M253.4 302.4h0M224.6 251.1h0M252.7 294.6h0M174.4 250.6h0M239.8 246.5h0" stroke="#8480c0" stroke-width="1.35" stroke-linecap="round" stroke-opacity="0.6"/><path d="M204.6 295.4h0M213.6 299.5h0M173.6 265.5h0M181.1 305.1h0M218.0 281.2h0M235.1 285.8h0M213.8 261.9h0M226.3 254.6h0" stroke="#8480c0" stroke-width="1.35" stroke-linecap="round" stroke-opacity="0.7"/><path d="M252.1 291.1h0M218.9 296.5h0M204.9 308.0h0M239.9 295.5h0" stroke="#8480c0" stroke-width="1.50" stroke-linecap="round" stroke-opacity="0.3"/><path d="M195.4 286.9h0M216.0 301.3h0M252.4 271.1h0M194.3 276.3h0" stroke="#8480c0" stroke-width="1.50" stroke-linecap="round" stroke-opacity="0.4"/><path d="M251.3 297.9h0M209.8 246.5h0M199.0 280.3h0M195.0 310.1h0M209.5 262.9h0M196.2 277.8h0M242.1 283.5h0M192.4 310.4h0" stroke="#8480c0" stroke-width="1.50" stroke-linecap="round" stroke-opacity="0.5"/><path d="M224.2 289.7h0M215.7 249.7h0M177.7 257.2h0" stroke="#8480c0" stroke-width="1.50" stroke-linecap="round" stroke-opacity="0.6"/><path d="M233.7 262.1h0M238.7 269.0h0M216.7 310.9h0M196.1 248.4h0M203.2 295.1h0M240.3 294.0h0" stroke="#8480c0" stroke-width="1.50" stroke-linecap="round" stroke-opacity="0.7"/><path d="M202.4 244.2h0M211.5 277.5h0" stroke="#8480c0" stroke-width="1.65" stroke-linecap="round" stroke-opacity="0.3"/><path d="M195.4 246.9h0M212.6 283.2h0M238.7 265.2h0M203.5 286.9h0M228.5 311.3h0" stroke="#8480c0" stroke-width="1.65" stroke-linecap="round" stroke-opacity="0.4"/><path d="M247.4 304.8h0M228.3 275.1h0M164.1 286.9h0M205.8 271.6h0M202.1 258.3h0M227.6 272.6h0" stroke="#8480c0" stroke-width="1.65" stroke-linecap="round" stroke-opacity="0.5"/><path d="M231.8 276.6h0M193.5 268.5h0M247.5 249.8h0M184.4 250.9h0M189.2 264.0h0" stroke="#8480c0" stroke-width="1.65" stroke-linecap="round" stroke-opacity="0.6"/><path d="M177.7 289.2h0M170.3 297.5h0M227.7 264.1h0M235.7 252.5h0M165.4 271.3h0M210.7 296.4h0" stroke="#8480c0" stroke-width="1.65" stroke-linecap="round" stroke-opacity="0.7"/><path d="M243.4 299.5h0M186.4 258.7h0M244.0 248.2h0M243.3 278.4h0M207.7 249.4h0" stroke="#8480c0" stroke-width="1.80" stroke-linecap="round" stroke-opacity="0.3"/><path d="M246.2 306.9h0M179.4 292.9h0M181.2 295.1h0M248.2 285.1h0M237.1 244.7h0" stroke="#8480c0" stroke-width="1.80" stroke-linecap="round" stroke-opacity="0.4"/><path d="M225.0 250.9h0M239.2 255.2h0M212.1 257.6h0M238.7 293.3h0M168.7 303.2h0M232.0 248.6h0M166.1 276.1h0" stroke="#8480c0" stroke-width="1.80" stroke-linecap="round" stroke-opacity="0.5"/><path d="M204.2 290.3h0M198.6 249.1h0M181.4 306.2h0M252.8 307.0h0M168.8 304.9h0M165.4 277.9h0M234.3 310.7h0M191.8 256.7h0" stroke="#8480c0" stroke-width="1.80" stroke-linecap="round" stroke-opacity="0.6"/><path d="M223.1 264.0h0M216.7 278.4h0M256.3 285.8h0M174.2 279.1h0M195.1 300.5h0M186.8 261.2h0M165.4 300.8h0M228.6 261.6h0M192.6 286.5h0" stroke="#8480c0" stroke-width="1.80" stroke-linecap="round" stroke-opacity="0.7"/><path d="M192.8 264.8h0" stroke="#8480c0" stroke-width="1.95" stroke-linecap="round" stroke-opacity="0.4"/><path d="M239.7 260.8h0" stroke="#8480c0" stroke-width="1.95" stroke-linecap="round" stroke-opacity="0.5"/><path d="M218.2 302.7h0" stroke="#8480c0" stroke-width="1.95" stroke-linecap="round" stroke-opacity="0.6"/><path d="M174.7 310.8h0M235.5 251.0h0" stroke="#8480c0" stroke-width="1.95" stroke-linecap="round" stroke-opacity="0.7"/><path d="M204.2 285.2h0M206.1 283.7h0" stroke="#8a86c6" stroke-width="1.05" stroke-linecap="round" stroke-opacity="0.4"/><path d="M206.2 303.4h0M233.8 296.3h0M225.1 303.2h0" stroke="#8a86c6" stroke-width="1.05" stroke-linecap="round" stroke-opacity="0.5"/><path d="M198.3 259.7h0M198.6 273.2h0M227.6 246.5h0M211.4 253.8h0M242.5 279.8h0M186.3 277.0h0M235.4 258.8h0" stroke="#8a86c6" stroke-width="1.05" stroke-linecap="round" stroke-opacity="0.6"/><path d="M163.8 276.7h0M199.9 262.6h0M201.7 245.5h0" stroke="#8a86c6" stroke-width="1.05" stroke-linecap="round" stroke-opacity="0.7"/><path d="M173.6 310.0h0M220.3 266.2h0M227.3 258.6h0M231.6 278.6h0M175.7 294.4h0" stroke="#8a86c6" stroke-width="1.20" stroke-linecap="round" stroke-opacity="0.3"/><path d="M250.4 245.1h0M199.4 276.7h0M195.8 260.0h0M207.3 266.1h0M182.3 274.9h0M192.4 289.6h0M247.2 269.4h0M204.6 265.2h0" stroke="#8a86c6" stroke-width="1.20" stroke-linecap="round" stroke-opacity="0.4"/><path d="M207.8 294.3h0M176.0 244.6h0M183.6 306.3h0M202.9 295.2h0" stroke="#8a86c6" stroke-width="1.20" stroke-linecap="round" stroke-opacity="0.5"/><path d="M236.1 297.1h0M204.0 304.4h0M183.7 265.9h0M190.4 256.9h0M184.3 255.0h0M203.0 263.1h0" stroke="#8a86c6" stroke-width="1.20" stroke-linecap="round" stroke-opacity="0.6"/><path d="M185.2 285.2h0M232.2 278.6h0M178.1 312.7h0M181.0 278.0h0M196.5 284.1h0M247.4 310.4h0M235.2 255.9h0M250.4 252.3h0M244.6 267.8h0M211.1 290.0h0M244.9 292.7h0" stroke="#8a86c6" stroke-width="1.20" stroke-linecap="round" stroke-opacity="0.7"/><path d="M240.1 247.4h0M211.0 248.7h0M164.1 272.0h0M255.4 294.8h0M174.8 261.6h0M246.3 299.5h0M208.7 273.2h0" stroke="#8a86c6" stroke-width="1.35" stroke-linecap="round" stroke-opacity="0.3"/><path d="M245.2 303.8h0M246.8 279.7h0" stroke="#8a86c6" stroke-width="1.35" stroke-linecap="round" stroke-opacity="0.4"/><path d="M177.8 269.3h0M182.9 274.7h0M170.2 255.5h0M253.9 256.5h0M232.8 290.3h0M249.1 280.4h0M191.5 297.7h0M189.6 275.1h0M197.6 311.9h0M243.8 304.1h0M206.8 296.8h0" stroke="#8a86c6" stroke-width="1.35" stroke-linecap="round" stroke-opacity="0.5"/><path d="M166.8 289.9h0M228.1 256.7h0M220.9 264.1h0M193.8 266.1h0M235.0 248.1h0" stroke="#8a86c6" stroke-width="1.35" stroke-linecap="round" stroke-opacity="0.6"/><path d="M184.2 249.5h0M200.5 307.4h0M204.0 257.7h0" stroke="#8a86c6" stroke-width="1.35" stroke-linecap="round" stroke-opacity="0.7"/><path d="M194.4 253.0h0M206.8 247.9h0M200.6 304.7h0M202.2 250.1h0" stroke="#8a86c6" stroke-width="1.50" stroke-linecap="round" stroke-opacity="0.3"/><path d="M180.8 291.5h0" stroke="#8a86c6" stroke-width="1.50" stroke-linecap="round" stroke-opacity="0.4"/><path d="M234.3 283.7h0" stroke="#8a86c6" stroke-width="1.50" stroke-linecap="round" stroke-opacity="0.5"/><path d="M236.4 264.6h0M244.5 258.7h0M225.5 279.2h0M199.4 251.3h0M253.9 257.5h0M242.8 293.6h0M164.4 299.0h0M227.6 296.2h0" stroke="#8a86c6" stroke-width="1.50" stroke-linecap="round" stroke-opacity="0.6"/><path d="M228.3 294.3h0M221.2 247.9h0M174.6 264.9h0M215.8 278.8h0M188.6 283.2h0M199.6 276.5h0M253.9 290.1h0M216.7 287.8h0M246.8 265.7h0" stroke="#8a86c6" stroke-width="1.50" stroke-linecap="round" stroke-opacity="0.7"/><path d="M205.4 302.0h0M188.5 282.0h0M176.3 244.0h0" stroke="#8a86c6" stroke-width="1.65" stroke-linecap="round" stroke-opacity="0.3"/><path d="M213.6 310.2h0M254.5 290.8h0M171.2 296.2h0M209.6 247.3h0" stroke="#8a86c6" stroke-width="1.65" stroke-linecap="round" stroke-opacity="0.4"/><path d="M172.1 271.8h0M238.1 295.2h0M248.1 301.9h0M204.1 308.1h0M224.3 266.7h0M189.6 261.4h0M231.3 245.2h0" stroke="#8a86c6" stroke-width="1.65" stroke-linecap="round" stroke-opacity="0.5"/><path d="M234.5 305.4h0M242.6 274.0h0M173.8 264.8h0M231.1 252.1h0M187.9 258.4h0" stroke="#8a86c6" stroke-width="1.65" stroke-linecap="round" stroke-opacity="0.6"/><path d="M229.4 271.9h0M212.5 300.7h0M185.9 293.0h0M208.2 273.9h0M188.4 303.3h0" stroke="#8a86c6" stroke-width="1.65" stroke-linecap="round" stroke-opacity="0.7"/><path d="M198.8 280.9h0M254.4 247.0h0" stroke="#8a86c6" stroke-width="1.80" stroke-linecap="round" stroke-opacity="0.3"/><path d="M233.9 296.2h0M208.7 301.6h0M202.6 252.2h0M186.0 284.2h0M178.3 298.2h0" stroke="#8a86c6" stroke-width="1.80" stroke-linecap="round" stroke-opacity="0.4"/><path d="M249.2 292.8h0M194.1 297.6h0M212.6 277.4h0M234.5 265.0h0" stroke="#8a86c6" stroke-width="1.80" stroke-linecap="round" stroke-opacity="0.5"/><path d="M215.4 259.7h0M247.2 303.1h0" stroke="#8a86c6" stroke-width="1.80" stroke-linecap="round" stroke-opacity="0.6"/><path d="M200.3 277.7h0M180.3 306.1h0M187.4 305.0h0M203.6 302.1h0M250.0 296.7h0M222.8 296.4h0M251.3 284.1h0M174.9 248.9h0M250.5 278.8h0" stroke="#8a86c6" stroke-width="1.80" stroke-linecap="round" stroke-opacity="0.7"/><path d="M218.3 308.5h0" stroke="#8a86c6" stroke-width="1.95" stroke-linecap="round" stroke-opacity="0.4"/><path d="M228.7 274.2h0" stroke="#9a96d0" stroke-width="1.05" stroke-linecap="round" stroke-opacity="0.3"/><path d="M186.1 290.8h0M243.7 306.4h0M222.4 262.3h0" stroke="#9a96d0" stroke-width="1.05" stroke-linecap="round" stroke-opacity="0.4"/><path d="M211.1 257.3h0M214.8 278.3h0M256.1 291.8h0M195.8 284.0h0M232.1 302.0h0M203.3 297.7h0M191.5 291.6h0" stroke="#9a96d0" stroke-width="1.05" stroke-linecap="round" stroke-opacity="0.5"/><path d="M220.7 283.2h0M244.8 285.0h0M189.4 281.6h0M224.3 261.1h0M212.6 263.8h0M194.8 248.1h0" stroke="#9a96d0" stroke-width="1.05" stroke-linecap="round" stroke-opacity="0.6"/><path d="M170.4 292.0h0M166.1 294.1h0M199.9 288.1h0M227.6 259.3h0M180.1 249.2h0M223.0 301.0h0M167.7 248.9h0" stroke="#9a96d0" stroke-width="1.05" stroke-linecap="round" stroke-opacity="0.7"/><path d="M232.5 244.4h0" stroke="#9a96d0" stroke-width="1.20" stroke-linecap="round" stroke-opacity="0.3"/><path d="M210.0 271.7h0M210.1 304.8h0M226.1 264.6h0M191.1 291.4h0M204.8 253.0h0M181.7 255.5h0M182.4 307.1h0M181.8 281.7h0M237.1 301.4h0" stroke="#9a96d0" stroke-width="1.20" stroke-linecap="round" stroke-opacity="0.4"/><path d="M176.9 286.6h0M187.4 274.9h0M232.4 271.4h0" stroke="#9a96d0" stroke-width="1.20" stroke-linecap="round" stroke-opacity="0.5"/><path d="M169.7 260.4h0M223.0 277.8h0M176.4 280.7h0M172.3 309.8h0M175.9 248.9h0M202.7 302.7h0M246.4 309.9h0" stroke="#9a96d0" stroke-width="1.20" stroke-linecap="round" stroke-opacity="0.6"/><path d="M182.4 295.2h0M222.3 294.8h0M245.6 283.7h0M222.9 299.3h0M236.4 251.2h0M213.0 259.3h0M223.0 261.2h0" stroke="#9a96d0" stroke-width="1.20" stroke-linecap="round" stroke-opacity="0.7"/><path d="M174.2 278.8h0M206.2 309.2h0M194.5 258.5h0M210.5 294.2h0" stroke="#9a96d0" stroke-width="1.35" stroke-linecap="round" stroke-opacity="0.3"/><path d="M191.0 276.4h0M165.5 312.6h0M173.2 277.9h0M188.8 275.9h0M206.0 265.9h0M206.9 303.6h0M181.9 307.1h0M192.3 254.6h0M232.1 296.6h0" stroke="#9a96d0" stroke-width="1.35" stroke-linecap="round" stroke-opacity="0.4"/><path d="M186.0 250.4h0M232.9 273.8h0M207.0 309.6h0M240.0 270.1h0M184.5 287.5h0M253.1 310.2h0M166.0 252.4h0M167.8 249.2h0M197.3 258.4h0M166.6 248.5h0M218.0 302.6h0M226.4 292.7h0M254.3 246.7h0" stroke="#9a96d0" stroke-width="1.35" stroke-linecap="round" stroke-opacity="0.5"/><path d="M225.0 259.3h0M225.8 300.7h0M189.6 281.8h0M224.2 260.3h0M231.5 285.8h0M245.9 289.8h0M256.5 294.5h0M214.1 310.1h0" stroke="#9a96d0" stroke-width="1.35" stroke-linecap="round" stroke-opacity="0.6"/><path d="M163.1 247.0h0M242.4 295.4h0M227.8 267.2h0M249.0 245.7h0M225.4 286.1h0" stroke="#9a96d0" stroke-width="1.35" stroke-linecap="round" stroke-opacity="0.7"/><path d="M206.6 252.9h0M197.6 306.9h0" stroke="#9a96d0" stroke-width="1.50" stroke-linecap="round" stroke-opacity="0.3"/><path d="M234.4 289.0h0M188.4 252.3h0M168.2 262.1h0M212.7 302.4h0M214.7 306.7h0M210.5 277.5h0" stroke="#9a96d0" stroke-width="1.50" stroke-linecap="round" stroke-opacity="0.4"/><path d="M165.2 306.0h0M183.0 307.4h0M248.4 299.5h0M219.3 248.2h0" stroke="#9a96d0" stroke-width="1.50" stroke-linecap="round" stroke-opacity="0.5"/><path d="M220.0 274.6h0M211.8 255.0h0M252.0 264.5h0M236.8 290.3h0M196.9 306.6h0" stroke="#9a96d0" stroke-width="1.50" stroke-linecap="round" stroke-opacity="0.6"/><path d="M191.0 267.1h0M230.9 278.4h0M190.1 244.8h0" stroke="#9a96d0" stroke-width="1.50" stroke-linecap="round" stroke-opacity="0.7"/><path d="M189.4 249.8h0M204.6 312.0h0M211.6 292.3h0M226.7 254.7h0M208.2 296.9h0" stroke="#9a96d0" stroke-width="1.65" stroke-linecap="round" stroke-opacity="0.3"/><path d="M177.7 259.4h0" stroke="#9a96d0" stroke-width="1.65" stroke-linecap="round" stroke-opacity="0.4"/><path d="M208.0 295.6h0M184.8 301.4h0M214.3 261.0h0M186.1 256.6h0M224.8 282.3h0" stroke="#9a96d0" stroke-width="1.65" stroke-linecap="round" stroke-opacity="0.5"/><path d="M238.5 312.8h0M229.6 245.9h0M179.4 250.4h0M181.6 306.7h0M166.6 254.2h0M184.6 274.8h0M214.4 284.9h0M185.3 255.5h0M177.9 287.0h0" stroke="#9a96d0" stroke-width="1.65" stroke-linecap="round" stroke-opacity="0.6"/><path d="M241.2 263.0h0M255.8 306.3h0M241.3 287.5h0M227.6 264.1h0M206.2 275.5h0" stroke="#9a96d0" stroke-width="1.65" stroke-linecap="round" stroke-opacity="0.7"/><path d="M168.6 257.0h0M231.3 311.9h0M235.8 277.0h0M202.2 304.9h0M206.5 255.7h0" stroke="#9a96d0" stroke-width="1.80" stroke-linecap="round" stroke-opacity="0.4"/><path d="M232.5 285.5h0M205.8 291.8h0M220.8 308.6h0M251.7 249.7h0M242.1 299.8h0M170.2 306.3h0" stroke="#9a96d0" stroke-width="1.80" stroke-linecap="round" stroke-opacity="0.5"/><path d="M253.9 274.4h0M247.1 245.5h0M218.5 302.2h0M174.1 262.6h0M231.4 303.0h0" stroke="#9a96d0" stroke-width="1.80" stroke-linecap="round" stroke-opacity="0.6"/><path d="M180.1 263.1h0M212.3 252.1h0M214.1 269.6h0M186.9 278.6h0M178.1 255.4h0M215.4 294.5h0M175.7 250.9h0" stroke="#9a96d0" stroke-width="1.80" stroke-linecap="round" stroke-opacity="0.7"/><path d="M177.1 313.2h0M242.1 302.2h0" stroke="#9a96d0" stroke-width="1.95" stroke-linecap="round" stroke-opacity="0.3"/><path d="M185.6 301.9h0" stroke="#9a96d0" stroke-width="1.95" stroke-linecap="round" stroke-opacity="0.6"/><path d="M236.3 309.1h0M255.9 269.2h0" stroke="#9a96d0" stroke-width="1.95" stroke-linecap="round" stroke-opacity="0.7"/><path d="M226.3 251.2h0" stroke="#a8a4d6" stroke-width="1.05" stroke-linecap="round" stroke-opacity="0.3"/><path d="M215.7 256.5h0M208.8 286.3h0M197.9 270.5h0M231.8 291.8h0M218.0 254.8h0M230.3 265.9h0M177.6 302.6h0" stroke="#a8a4d6" stroke-width="1.05" stroke-linecap="round" stroke-opacity="0.4"/><path d="M228.4 298.0h0M205.3 285.8h0M184.6 275.6h0M189.2 247.0h0M182.0 273.6h0" stroke="#a8a4d6" stroke-width="1.05" stroke-linecap="round" stroke-opacity="0.5"/><path d="M244.5 302.5h0M195.1 274.7h0M227.5 249.7h0" stroke="#a8a4d6" stroke-width="1.05" stroke-linecap="round" stroke-opacity="0.6"/><path d="M198.2 309.8h0M249.8 253.5h0" stroke="#a8a4d6" stroke-width="1.05" stroke-linecap="round" stroke-opacity="0.7"/><path d="M235.0 275.5h0M195.9 270.6h0M231.0 246.7h0M247.4 301.6h0M194.0 267.6h0" stroke="#a8a4d6" stroke-width="1.20" stroke-linecap="round" stroke-opacity="0.3"/><path d="M222.4 294.1h0M251.4 246.8h0M205.1 263.7h0M201.7 308.1h0M216.5 258.9h0M234.0 286.7h0M215.7 297.6h0M235.2 282.5h0M218.7 260.2h0M207.7 286.7h0" stroke="#a8a4d6" stroke-width="1.20" stroke-linecap="round" stroke-opacity="0.4"/><path d="M233.9 262.8h0M220.0 259.9h0M221.1 274.1h0M219.9 290.4h0M220.5 258.0h0" stroke="#a8a4d6" stroke-width="1.20" stroke-linecap="round" stroke-opacity="0.5"/><path d="M226.6 245.5h0M186.8 272.1h0M250.7 289.5h0M176.1 289.1h0M246.2 248.4h0M198.4 286.5h0M208.7 244.1h0M165.4 266.4h0M234.3 299.1h0M181.7 266.5h0" stroke="#a8a4d6" stroke-width="1.20" stroke-linecap="round" stroke-opacity="0.6"/><path d="M168.4 248.2h0M165.9 291.1h0M227.8 244.1h0M183.6 252.7h0M169.4 244.8h0M183.6 293.0h0M180.1 292.8h0" stroke="#a8a4d6" stroke-width="1.20" stroke-linecap="round" stroke-opacity="0.7"/><path d="M172.5 308.4h0M245.5 273.1h0" stroke="#a8a4d6" stroke-width="1.35" stroke-linecap="round" stroke-opacity="0.3"/><path d="M245.7 253.3h0M207.1 302.7h0M216.1 295.6h0M191.4 310.2h0M213.8 255.7h0M244.6 268.2h0" stroke="#a8a4d6" stroke-width="1.35" stroke-linecap="round" stroke-opacity="0.4"/><path d="M231.9 264.4h0M254.6 255.7h0M235.4 259.3h0M188.5 280.3h0M236.4 255.9h0M209.1 292.7h0M240.3 254.0h0" stroke="#a8a4d6" stroke-width="1.35" stroke-linecap="round" stroke-opacity="0.5"/><path d="M212.1 278.0h0M254.9 267.3h0M186.2 267.5h0" stroke="#a8a4d6" stroke-width="1.35" stroke-linecap="round" stroke-opacity="0.6"/><path d="M254.1 280.5h0M188.1 290.0h0M189.6 283.7h0M254.7 268.6h0M250.4 272.7h0M179.1 311.8h0" stroke="#a8a4d6" stroke-width="1.35" stroke-linecap="round" stroke-opacity="0.7"/><path d="M253.5 309.3h0M192.1 245.8h0" stroke="#a8a4d6" stroke-width="1.50" stroke-linecap="round" stroke-opacity="0.3"/><path d="M196.7 311.0h0M213.7 305.9h0M222.7 245.0h0M195.9 254.6h0" stroke="#a8a4d6" stroke-width="1.50" stroke-linecap="round" stroke-opacity="0.4"/><path d="M171.9 310.1h0M172.6 266.7h0M168.9 305.3h0M218.0 282.9h0M185.0 288.9h0M204.2 249.9h0M190.3 264.1h0" stroke="#a8a4d6" stroke-width="1.50" stroke-linecap="round" stroke-opacity="0.5"/><path d="M253.5 302.0h0M237.8 270.6h0M215.1 263.1h0M235.7 280.0h0M234.2 256.1h0M171.6 281.6h0" stroke="#a8a4d6" stroke-width="1.50" stroke-linecap="round" stroke-opacity="0.6"/><path d="M229.3 277.1h0M203.7 245.6h0M244.4 264.5h0M200.9 304.1h0M206.9 253.6h0M230.1 285.0h0M216.2 280.6h0M176.8 307.8h0M179.7 271.2h0M198.7 285.4h0M199.0 311.2h0M209.8 301.1h0M221.7 295.0h0" stroke="#a8a4d6" stroke-width="1.50" stroke-linecap="round" stroke-opacity="0.7"/><path d="M206.2 290.4h0M233.7 265.2h0" stroke="#a8a4d6" stroke-width="1.65" stroke-linecap="round" stroke-opacity="0.3"/><path d="M229.8 290.3h0M238.0 306.8h0" stroke="#a8a4d6" stroke-width="1.65" stroke-linecap="round" stroke-opacity="0.4"/><path d="M247.5 264.8h0M175.1 267.6h0M199.8 261.0h0M236.3 288.7h0M163.7 311.5h0M231.3 244.6h0" stroke="#a8a4d6" stroke-width="1.65" stroke-linecap="round" stroke-opacity="0.5"/><path d="M177.3 271.5h0M164.1 282.8h0M168.7 267.6h0M207.9 268.8h0M221.5 275.5h0M165.9 255.1h0M195.3 291.2h0" stroke="#a8a4d6" stroke-width="1.65" stroke-linecap="round" stroke-opacity="0.6"/><path d="M249.2 244.5h0M230.3 282.0h0M209.8 303.7h0M225.7 304.4h0M186.2 250.3h0M184.4 261.9h0M226.4 270.9h0" stroke="#a8a4d6" stroke-width="1.65" stroke-linecap="round" stroke-opacity="0.7"/><path d="M169.8 305.9h0" stroke="#a8a4d6" stroke-width="1.80" stroke-linecap="round" stroke-opacity="0.3"/><path d="M235.6 292.6h0M236.0 247.0h0M163.7 252.1h0M168.9 311.3h0M227.4 295.1h0M207.6 248.7h0M223.3 262.7h0" stroke="#a8a4d6" stroke-width="1.80" stroke-linecap="round" stroke-opacity="0.4"/><path d="M255.8 300.1h0M230.0 255.4h0M190.7 311.9h0" stroke="#a8a4d6" stroke-width="1.80" stroke-linecap="round" stroke-opacity="0.5"/><path d="M179.1 249.0h0M194.9 253.3h0M223.4 256.5h0M246.5 308.1h0M202.7 285.0h0M183.4 286.9h0M187.6 271.9h0" stroke="#a8a4d6" stroke-width="1.80" stroke-linecap="round" stroke-opacity="0.6"/><path d="M199.4 251.4h0M179.9 285.2h0M230.6 276.8h0M169.5 267.4h0M169.3 310.3h0M243.2 248.2h0" stroke="#a8a4d6" stroke-width="1.80" stroke-linecap="round" stroke-opacity="0.7"/><path d="M206.0 283.6h0" stroke="#a8a4d6" stroke-width="1.95" stroke-linecap="round" stroke-opacity="0.3"/><path d="M252.2 252.0h0" stroke="#a8a4d6" stroke-width="1.95" stroke-linecap="round" stroke-opacity="0.4"/><path d="M174.6 271.5h0" stroke="#a8a4d6" stroke-width="1.95" stroke-linecap="round" stroke-opacity="0.5"/>
<path d="M271.1 190.1h0M309.3 197.8h0M285.7 175.6h0M317.0 226.6h0M344.5 222.7h0M276.1 225.0h0M320.9 176.0h0M318.1 211.4h0M275.4 164.6h0M328.7 228.6h0M337.8 224.2h0M300.9 220.3h0M261.7 219.8h0" stroke="#9c96c4" stroke-width="1.05" stroke-linecap="round" stroke-opacity="0.3"/><path d="M279.8 181.2h0M326.6 229.0h0M340.7 168.8h0M319.5 197.8h0M292.2 186.1h0" stroke="#9c96c4" stroke-width="1.05" stroke-linecap="round" stroke-opacity="0.4"/><path d="M295.1 221.2h0M341.5 182.6h0M263.0 184.6h0M325.9 202.4h0M327.6 171.4h0M309.7 195.8h0M352.7 176.0h0M292.8 220.4h0M282.1 210.4h0M284.7 231.3h0" stroke="#9c96c4" stroke-width="1.05" stroke-linecap="round" stroke-opacity="0.5"/><path d="M310.1 205.8h0M317.3 231.0h0M339.6 182.6h0M332.5 232.7h0M280.1 200.0h0M347.5 214.1h0M264.4 185.7h0M290.2 209.6h0" stroke="#9c96c4" stroke-width="1.05" stroke-linecap="round" stroke-opacity="0.6"/><path d="M314.6 186.7h0M320.0 164.7h0M304.2 233.2h0M313.4 192.0h0M272.1 184.8h0M353.9 209.8h0M320.7 212.7h0M278.5 216.6h0M289.2 202.5h0" stroke="#9c96c4" stroke-width="1.20" stroke-linecap="round" stroke-opacity="0.3"/><path d="M270.7 181.1h0M297.8 225.3h0M270.6 176.1h0M318.5 220.6h0M332.0 219.1h0M275.0 220.1h0M326.7 232.8h0M340.2 218.0h0M271.2 199.8h0M263.8 167.7h0" stroke="#9c96c4" stroke-width="1.20" stroke-linecap="round" stroke-opacity="0.4"/><path d="M274.8 166.9h0M261.9 180.8h0M329.5 171.4h0M316.5 193.7h0M308.8 187.8h0M291.3 223.2h0M300.5 206.0h0M279.1 220.2h0M275.7 171.5h0M295.8 218.5h0M290.0 231.7h0M343.3 206.9h0" stroke="#9c96c4" stroke-width="1.20" stroke-linecap="round" stroke-opacity="0.5"/><path d="M315.3 197.6h0M323.7 166.0h0M310.5 171.3h0M269.0 202.9h0M319.4 190.5h0M290.1 214.1h0M307.5 207.0h0" stroke="#9c96c4" stroke-width="1.20" stroke-linecap="round" stroke-opacity="0.6"/><path d="M269.1 197.1h0M299.1 196.9h0M311.7 202.9h0M338.9 175.5h0M335.5 180.0h0M274.7 182.1h0" stroke="#9c96c4" stroke-width="1.35" stroke-linecap="round" stroke-opacity="0.3"/><path d="M304.5 182.2h0M337.4 225.9h0M290.3 205.2h0M274.4 200.2h0M265.0 220.1h0M309.3 224.6h0M267.3 184.4h0M354.3 187.7h0" stroke="#9c96c4" stroke-width="1.35" stroke-linecap="round" stroke-opacity="0.4"/><path d="M275.1 197.1h0M301.7 198.8h0M274.3 176.1h0M331.4 198.7h0M286.6 215.7h0M342.9 200.1h0M339.3 168.2h0" stroke="#9c96c4" stroke-width="1.35" stroke-linecap="round" stroke-opacity="0.5"/><path d="M344.2 226.6h0M321.2 192.7h0M320.5 192.3h0M317.7 232.4h0M307.2 205.4h0M261.6 228.0h0M340.0 213.8h0M299.3 176.8h0M287.7 227.1h0" stroke="#9c96c4" stroke-width="1.35" stroke-linecap="round" stroke-opacity="0.6"/><path d="M324.0 180.2h0M310.1 221.4h0M299.4 186.9h0M351.8 221.2h0M269.4 184.5h0M329.6 229.3h0M324.3 190.9h0M312.9 165.1h0M305.0 185.7h0M276.3 178.5h0M352.9 225.3h0" stroke="#9c96c4" stroke-width="1.50" stroke-linecap="round" stroke-opacity="0.3"/><path d="M271.2 184.4h0M333.3 212.2h0M333.0 193.1h0M311.8 178.7h0M343.3 202.3h0M340.6 197.4h0M306.5 223.4h0M281.6 178.7h0M330.6 232.5h0M327.5 180.9h0M351.0 228.2h0M281.5 174.3h0M296.2 197.0h0" stroke="#9c96c4" stroke-width="1.50" stroke-linecap="round" stroke-opacity="0.4"/><path d="M338.7 175.0h0M272.2 195.6h0M321.1 175.2h0M332.8 183.1h0M281.1 210.3h0M283.2 230.0h0M288.9 211.7h0" stroke="#9c96c4" stroke-width="1.50" stroke-linecap="round" stroke-opacity="0.5"/><path d="M328.9 204.4h0M349.7 172.8h0M345.3 176.7h0M265.0 192.7h0M299.6 193.0h0M347.1 192.0h0M338.9 170.7h0" stroke="#9c96c4" stroke-width="1.50" stroke-linecap="round" stroke-opacity="0.6"/><path d="M265.3 209.4h0M341.4 218.9h0M316.2 201.2h0M285.1 165.3h0M326.8 224.6h0M275.3 204.5h0M295.7 174.7h0M307.2 170.0h0M330.2 207.7h0M334.0 166.1h0M316.0 179.3h0M285.9 202.2h0M306.8 224.1h0M322.2 200.3h0M264.3 184.0h0" stroke="#9c96c4" stroke-width="1.65" stroke-linecap="round" stroke-opacity="0.3"/><path d="M325.5 227.8h0M346.0 190.5h0M332.1 206.0h0M343.5 218.7h0M275.0 232.0h0M315.2 225.7h0M286.7 223.9h0M285.2 227.5h0M314.6 172.5h0" stroke="#9c96c4" stroke-width="1.65" stroke-linecap="round" stroke-opacity="0.4"/><path d="M352.5 196.2h0M317.9 184.9h0M287.2 166.1h0M320.5 221.6h0M288.5 179.6h0M306.4 201.8h0M338.0 233.4h0M271.2 225.0h0M276.5 167.4h0M308.0 231.2h0M308.8 168.0h0M275.0 205.1h0M337.0 183.4h0" stroke="#9c96c4" stroke-width="1.65" stroke-linecap="round" stroke-opacity="0.5"/><path d="M273.6 170.1h0M292.2 194.1h0M310.9 178.0h0M284.4 232.2h0M303.7 189.6h0M265.3 232.0h0M305.4 191.3h0M301.2 219.6h0M303.4 167.7h0M349.6 218.6h0" stroke="#9c96c4" stroke-width="1.65" stroke-linecap="round" stroke-opacity="0.6"/><path d="M325.6 202.7h0M289.5 178.3h0M306.2 166.1h0M271.0 193.0h0M320.0 172.2h0" stroke="#9c96c4" stroke-width="1.80" stroke-linecap="round" stroke-opacity="0.3"/><path d="M295.6 204.8h0M304.0 195.3h0M353.4 224.3h0M272.5 192.9h0M329.7 173.3h0M266.8 221.7h0" stroke="#9c96c4" stroke-width="1.80" stroke-linecap="round" stroke-opacity="0.4"/><path d="M348.1 170.0h0M292.3 172.0h0M350.4 166.8h0M267.0 184.8h0M267.5 233.5h0M330.0 176.5h0" stroke="#9c96c4" stroke-width="1.80" stroke-linecap="round" stroke-opacity="0.5"/><path d="M338.2 213.9h0M319.1 193.3h0" stroke="#9c96c4" stroke-width="1.80" stroke-linecap="round" stroke-opacity="0.6"/><path d="M344.2 225.0h0M278.0 232.2h0M326.4 221.9h0M273.1 169.0h0M274.7 193.7h0M300.3 179.6h0M287.3 177.2h0M320.9 210.8h0" stroke="#a6a0cc" stroke-width="1.05" stroke-linecap="round" stroke-opacity="0.3"/><path d="M312.5 172.3h0M342.7 189.6h0M344.1 167.6h0M303.1 176.5h0M281.2 233.6h0M307.9 232.2h0M304.2 191.3h0M287.0 226.0h0M326.8 178.8h0M303.0 194.9h0M352.9 203.6h0" stroke="#a6a0cc" stroke-width="1.05" stroke-linecap="round" stroke-opacity="0.4"/><path d="M315.6 232.0h0M329.2 164.8h0M326.8 212.0h0M320.7 200.2h0M345.1 180.3h0M303.8 188.8h0M317.9 221.9h0M338.3 183.1h0M306.5 198.9h0M343.3 201.0h0" stroke="#a6a0cc" stroke-width="1.05" stroke-linecap="round" stroke-opacity="0.5"/><path d="M281.9 175.6h0M278.7 231.7h0" stroke="#a6a0cc" stroke-width="1.05" stroke-linecap="round" stroke-opacity="0.6"/><path d="M311.2 232.5h0M323.5 178.2h0M339.5 178.8h0M261.4 179.7h0M336.7 208.1h0M338.1 191.7h0M317.9 173.1h0M284.7 165.6h0M336.9 227.3h0M340.7 215.3h0M337.1 164.6h0M317.8 183.1h0M307.2 193.7h0" stroke="#a6a0cc" stroke-width="1.20" stroke-linecap="round" stroke-opacity="0.3"/><path d="M287.7 173.9h0M273.0 181.3h0M337.7 191.6h0M334.0 215.1h0M312.8 186.1h0M271.0 194.8h0M283.3 165.9h0M349.6 181.7h0M294.0 218.6h0M334.7 225.4h0M286.0 204.1h0M284.7 166.7h0M334.9 203.1h0M261.9 179.6h0M277.3 172.2h0M288.8 169.7h0M315.7 183.3h0" stroke="#a6a0cc" stroke-width="1.20" stroke-linecap="round" stroke-opacity="0.4"/><path d="M348.7 194.0h0M336.9 220.4h0M266.4 184.6h0M275.1 212.6h0M289.4 187.1h0M303.2 191.2h0M275.5 184.0h0M354.2 187.6h0M263.3 182.1h0M278.8 194.8h0M309.0 174.7h0M268.1 230.9h0" stroke="#a6a0cc" stroke-width="1.20" stroke-linecap="round" stroke-opacity="0.5"/><path d="M326.7 198.5h0M316.9 192.3h0M336.5 180.8h0M319.7 211.4h0M282.7 184.4h0M320.7 171.4h0M311.7 223.1h0" stroke="#a6a0cc" stroke-width="1.20" stroke-linecap="round" stroke-opacity="0.6"/><path d="M337.0 203.8h0M347.9 230.7h0M333.3 174.1h0M348.3 218.1h0M353.6 172.8h0M272.0 170.0h0M309.4 221.1h0M281.7 228.2h0M302.8 195.9h0" stroke="#a6a0cc" stroke-width="1.35" stroke-linecap="round" stroke-opacity="0.3"/><path d="M338.9 173.6h0M322.9 210.2h0M304.2 202.3h0M335.2 212.1h0M276.6 205.0h0M336.3 175.5h0M354.0 169.2h0M288.4 221.7h0M290.6 222.3h0M329.6 198.8h0M286.6 165.5h0M266.6 176.0h0M347.5 232.2h0M304.6 173.9h0M263.7 167.5h0M268.8 218.2h0" stroke="#a6a0cc" stroke-width="1.35" stroke-linecap="round" stroke-opacity="0.4"/><path d="M297.4 225.7h0M263.2 218.8h0M273.5 227.6h0M271.7 204.3h0M312.3 179.2h0M288.5 173.4h0M352.1 202.0h0M310.7 210.0h0M266.5 218.7h0M275.3 233.7h0M278.0 173.2h0" stroke="#a6a0cc" stroke-width="1.35" stroke-linecap="round" stroke-opacity="0.5"/><path d="M344.2 224.1h0M298.1 199.0h0M263.1 212.5h0M327.7 213.4h0M322.2 201.9h0M284.8 165.0h0M281.7 200.0h0M314.4 232.0h0" stroke="#a6a0cc" stroke-width="1.35" stroke-linecap="round" stroke-opacity="0.6"/><path d="M283.7 176.6h0M283.1 228.1h0" stroke="#a6a0cc" stroke-width="1.50" stroke-linecap="round" stroke-opacity="0.3"/><path d="M293.7 222.8h0M328.0 183.6h0M295.0 222.4h0M295.8 216.8h0M324.1 192.0h0M351.0 227.9h0M304.8 201.8h0M318.4 192.1h0M351.4 196.4h0M320.7 208.8h0M301.3 189.2h0M315.7 177.9h0M263.8 171.9h0M311.4 188.5h0M281.8 201.7h0" stroke="#a6a0cc" stroke-width="1.50" stroke-linecap="round" stroke-opacity="0.4"/><path d="M266.1 207.2h0M294.3 186.6h0M284.5 170.9h0M336.3 166.4h0M303.8 174.9h0M324.7 220.9h0M309.4 167.5h0" stroke="#a6a0cc" stroke-width="1.50" stroke-linecap="round" stroke-opacity="0.5"/><path d="M315.1 196.9h0M275.6 224.3h0M337.2 208.0h0M275.4 210.4h0M282.5 168.9h0M271.9 215.3h0M340.0 208.7h0M337.0 206.2h0M267.0 224.3h0M316.4 170.8h0M316.3 191.4h0" stroke="#a6a0cc" stroke-width="1.50" stroke-linecap="round" stroke-opacity="0.6"/><path d="M333.3 212.0h0M309.5 183.5h0M300.7 199.0h0M334.5 183.0h0M311.8 169.3h0M297.5 178.4h0M273.8 192.3h0M276.3 209.8h0M336.6 212.5h0M283.6 233.7h0M314.4 190.9h0" stroke="#a6a0cc" stroke-width="1.65" stroke-linecap="round" stroke-opacity="0.3"/><path d="M329.2 182.7h0M336.1 180.7h0M326.6 192.1h0M308.3 170.7h0M288.2 193.9h0M314.0 192.6h0M299.4 207.0h0M320.9 184.8h0M274.3 199.7h0M327.1 168.2h0M272.0 224.6h0M286.8 225.0h0M316.0 214.7h0M276.3 200.7h0M294.5 210.6h0M329.8 189.0h0M325.8 198.0h0" stroke="#a6a0cc" stroke-width="1.65" stroke-linecap="round" stroke-opacity="0.4"/><path d="M264.2 232.8h0M316.0 202.5h0M299.2 208.3h0M315.3 216.4h0M290.7 225.4h0M271.7 187.8h0M328.1 170.5h0M304.1 233.6h0M300.7 220.8h0" stroke="#a6a0cc" stroke-width="1.65" stroke-linecap="round" stroke-opacity="0.5"/><path d="M291.2 233.5h0M264.9 173.1h0M317.1 231.0h0" stroke="#a6a0cc" stroke-width="1.65" stroke-linecap="round" stroke-opacity="0.6"/><path d="M265.4 205.2h0M292.6 211.0h0M343.3 230.1h0M282.9 192.4h0M352.2 169.9h0" stroke="#a6a0cc" stroke-width="1.80" stroke-linecap="round" stroke-opacity="0.3"/><path d="M269.5 181.7h0M327.8 193.3h0M334.8 224.7h0M282.1 218.4h0" stroke="#a6a0cc" stroke-width="1.80" stroke-linecap="round" stroke-opacity="0.4"/><path d="M323.5 173.1h0M283.4 179.7h0M314.5 165.4h0M308.5 200.9h0" stroke="#a6a0cc" stroke-width="1.80" stroke-linecap="round" stroke-opacity="0.5"/><path d="M308.6 171.3h0M344.2 184.4h0M352.3 229.5h0M353.8 168.5h0" stroke="#a6a0cc" stroke-width="1.80" stroke-linecap="round" stroke-opacity="0.6"/><path d="M290.9 181.4h0M300.6 171.3h0M272.3 214.9h0M310.0 212.0h0" stroke="#b2acd2" stroke-width="1.05" stroke-linecap="round" stroke-opacity="0.3"/><path d="M315.5 175.2h0M284.8 208.3h0M280.4 182.8h0M275.0 177.2h0M322.6 196.4h0M331.0 196.4h0M264.7 228.5h0M309.3 181.6h0" stroke="#b2acd2" stroke-width="1.05" stroke-linecap="round" stroke-opacity="0.4"/><path d="M320.1 169.1h0M343.3 175.9h0M348.2 182.1h0M262.3 181.0h0M347.9 173.1h0M302.7 233.3h0M307.3 165.6h0M284.8 173.1h0M326.1 169.4h0" stroke="#b2acd2" stroke-width="1.05" stroke-linecap="round" stroke-opacity="0.5"/><path d="M342.5 229.3h0M338.3 228.7h0M300.3 170.9h0M293.6 224.5h0M277.2 226.9h0" stroke="#b2acd2" stroke-width="1.05" stroke-linecap="round" stroke-opacity="0.6"/><path d="M298.5 205.7h0M326.4 233.9h0M338.7 232.6h0M305.0 228.1h0M270.6 219.7h0M319.1 213.9h0M336.1 227.8h0M336.8 178.8h0M267.9 192.4h0M353.7 166.1h0" stroke="#b2acd2" stroke-width="1.20" stroke-linecap="round" stroke-opacity="0.3"/><path d="M287.1 202.2h0M286.7 187.7h0M331.8 181.8h0M328.1 225.6h0M309.9 170.5h0M272.9 184.1h0M296.6 198.9h0M335.7 188.4h0M268.9 217.8h0M344.9 185.4h0M261.3 179.4h0M344.9 190.7h0M318.8 175.8h0M317.1 219.1h0M328.8 207.5h0M277.0 194.4h0M285.1 177.0h0" stroke="#b2acd2" stroke-width="1.20" stroke-linecap="round" stroke-opacity="0.4"/><path d="M276.4 194.3h0M333.5 225.2h0M273.9 204.3h0M345.6 191.7h0M326.4 174.5h0M323.6 187.4h0M349.3 225.2h0M301.4 184.6h0M266.2 186.2h0M351.1 195.5h0M342.9 170.0h0" stroke="#b2acd2" stroke-width="1.20" stroke-linecap="round" stroke-opacity="0.5"/><path d="M321.6 168.6h0" stroke="#b2acd2" stroke-width="1.20" stroke-linecap="round" stroke-opacity="0.6"/><path d="M321.5 190.9h0M295.6 208.3h0M283.1 211.3h0M299.5 209.3h0M270.1 196.3h0M319.5 200.8h0M266.5 206.1h0" stroke="#b2acd2" stroke-width="1.35" stroke-linecap="round" stroke-opacity="0.3"/><path d="M346.8 202.0h0M320.7 200.8h0M291.8 166.4h0M295.4 232.8h0" stroke="#b2acd2" stroke-width="1.35" stroke-linecap="round" stroke-opacity="0.4"/><path d="M295.7 204.6h0M298.2 172.0h0M351.8 183.9h0M336.4 189.4h0M338.6 197.0h0M269.7 223.5h0M317.8 201.8h0M352.4 222.3h0M352.7 185.4h0M295.5 213.2h0" stroke="#b2acd2" stroke-width="1.35" stroke-linecap="round" stroke-opacity="0.5"/><path d="M341.0 188.8h0M322.2 188.2h0M279.4 198.7h0M297.7 232.4h0M351.6 222.4h0M293.1 167.5h0" stroke="#b2acd2" stroke-width="1.35" stroke-linecap="round" stroke-opacity="0.6"/><path d="M344.7 201.2h0M319.1 206.2h0M265.6 225.2h0M343.9 205.2h0M334.7 189.9h0M265.3 186.1h0M330.9 206.6h0M336.8 171.9h0M336.0 230.9h0M337.5 184.5h0M333.3 166.9h0M274.6 231.3h0M341.8 195.5h0M335.4 223.4h0" stroke="#b2acd2" stroke-width="1.50" stroke-linecap="round" stroke-opacity="0.3"/><path d="M288.4 202.7h0M296.4 208.9h0M277.7 167.8h0M302.8 227.1h0M330.5 189.8h0M294.0 208.7h0M322.8 177.2h0M263.6 228.0h0M285.5 181.9h0M317.0 204.5h0M323.4 209.3h0M328.2 218.3h0M289.1 180.4h0" stroke="#b2acd2" stroke-width="1.50" stroke-linecap="round" stroke-opacity="0.4"/><path d="M279.7 172.0h0M289.1 180.9h0M331.0 215.4h0M267.4 220.6h0M285.0 209.1h0M293.8 189.5h0M348.2 194.1h0M292.8 171.4h0M323.2 218.6h0M320.2 199.9h0M340.3 225.9h0" stroke="#b2acd2" stroke-width="1.50" stroke-linecap="round" stroke-opacity="0.5"/><path d="M352.4 188.9h0M349.4 190.5h0M322.8 191.0h0" stroke="#b2acd2" stroke-width="1.50" stroke-linecap="round" stroke-opacity="0.6"/><path d="M334.4 220.6h0M331.3 171.3h0M303.5 194.1h0M343.4 185.0h0M277.0 227.1h0" stroke="#b2acd2" stroke-width="1.65" stroke-linecap="round" stroke-opacity="0.3"/><path d="M333.9 212.8h0M286.6 168.1h0M275.1 180.7h0M352.6 190.0h0M293.1 197.9h0" stroke="#b2acd2" stroke-width="1.65" stroke-linecap="round" stroke-opacity="0.4"/><path d="M284.2 194.6h0M354.0 175.4h0M351.0 185.7h0M293.4 199.7h0M327.1 214.9h0M326.0 215.1h0M314.7 190.8h0M310.7 186.8h0M273.7 185.0h0M336.2 187.5h0M334.5 176.0h0M283.4 225.2h0M267.7 179.8h0M302.1 167.2h0" stroke="#b2acd2" stroke-width="1.65" stroke-linecap="round" stroke-opacity="0.5"/><path d="M351.1 213.9h0M305.3 185.9h0M267.6 201.3h0M339.4 206.9h0M332.4 188.3h0" stroke="#b2acd2" stroke-width="1.65" stroke-linecap="round" stroke-opacity="0.6"/><path d="M327.1 199.2h0M272.7 212.9h0" stroke="#b2acd2" stroke-width="1.80" stroke-linecap="round" stroke-opacity="0.3"/><path d="M317.8 206.7h0M350.8 179.1h0M268.9 214.4h0M295.7 186.2h0M301.8 200.6h0M303.3 199.6h0M313.4 169.8h0" stroke="#b2acd2" stroke-width="1.80" stroke-linecap="round" stroke-opacity="0.4"/><path d="M285.9 177.1h0M353.3 188.0h0" stroke="#b2acd2" stroke-width="1.80" stroke-linecap="round" stroke-opacity="0.5"/><path d="M339.9 196.7h0M342.5 229.6h0M268.8 221.9h0" stroke="#b2acd2" stroke-width="1.80" stroke-linecap="round" stroke-opacity="0.6"/>
<path d="M352.0 271.4h0M334.6 248.4h0M314.3 278.5h0M273.9 246.0h0" stroke="#9890b0" stroke-width="1.05" stroke-linecap="round" stroke-opacity="0.3"/><path d="M331.9 249.4h0M284.5 312.4h0M292.2 289.7h0M310.4 286.3h0M347.1 307.4h0M313.6 300.6h0M296.2 280.5h0" stroke="#9890b0" stroke-width="1.05" stroke-linecap="round" stroke-opacity="0.4"/><path d="M262.1 253.7h0M277.1 311.2h0M324.2 294.5h0M265.4 275.0h0M280.9 271.6h0" stroke="#9890b0" stroke-width="1.05" stroke-linecap="round" stroke-opacity="0.5"/><path d="M349.2 287.2h0M295.8 258.6h0M293.1 298.7h0M339.5 249.5h0M353.3 267.0h0M343.0 301.6h0M335.9 311.6h0" stroke="#9890b0" stroke-width="1.05" stroke-linecap="round" stroke-opacity="0.6"/><path d="M349.1 303.6h0M292.9 274.4h0M266.7 290.4h0M270.5 246.3h0" stroke="#9890b0" stroke-width="1.05" stroke-linecap="round" stroke-opacity="0.7"/><path d="M288.1 284.5h0" stroke="#9890b0" stroke-width="1.20" stroke-linecap="round" stroke-opacity="0.3"/><path d="M292.1 247.5h0M307.9 246.2h0M294.6 255.5h0M263.0 245.0h0M349.2 276.9h0M291.4 269.6h0M292.7 260.8h0M296.6 268.1h0M340.4 287.1h0" stroke="#9890b0" stroke-width="1.20" stroke-linecap="round" stroke-opacity="0.4"/><path d="M326.6 248.3h0M320.6 259.5h0M283.1 302.9h0M353.4 271.6h0M335.3 282.5h0M306.2 259.1h0M268.2 244.8h0M302.6 298.7h0M341.2 312.6h0M343.8 309.0h0M303.4 294.7h0M344.1 305.8h0" stroke="#9890b0" stroke-width="1.20" stroke-linecap="round" stroke-opacity="0.5"/><path d="M317.3 308.4h0M291.1 285.4h0M339.3 251.9h0M314.0 310.3h0M289.2 274.7h0" stroke="#9890b0" stroke-width="1.20" stroke-linecap="round" stroke-opacity="0.6"/><path d="M313.0 306.7h0M340.5 283.1h0M278.3 246.8h0M313.0 257.7h0M266.2 273.3h0M261.7 258.7h0M321.6 255.5h0M334.3 281.5h0" stroke="#9890b0" stroke-width="1.20" stroke-linecap="round" stroke-opacity="0.7"/><path d="M341.5 256.5h0M330.0 251.5h0M310.2 264.8h0" stroke="#9890b0" stroke-width="1.35" stroke-linecap="round" stroke-opacity="0.3"/><path d="M340.5 283.1h0M267.0 305.3h0M327.0 281.5h0M300.0 246.5h0M306.8 301.5h0M291.3 259.7h0M276.3 272.1h0M343.8 250.7h0M299.7 293.1h0" stroke="#9890b0" stroke-width="1.35" stroke-linecap="round" stroke-opacity="0.4"/><path d="M315.6 307.5h0M265.5 301.5h0M267.2 304.8h0M289.8 270.5h0M288.6 285.2h0M273.4 272.9h0M273.5 312.2h0M351.6 268.2h0M320.6 296.5h0M335.8 292.9h0M343.6 261.3h0M285.0 287.9h0" stroke="#9890b0" stroke-width="1.35" stroke-linecap="round" stroke-opacity="0.5"/><path d="M344.0 282.3h0M290.1 244.2h0M270.2 289.7h0M300.1 266.6h0M270.3 295.7h0" stroke="#9890b0" stroke-width="1.35" stroke-linecap="round" stroke-opacity="0.6"/><path d="M341.7 284.2h0M336.3 265.5h0M265.0 278.2h0M293.1 279.1h0M346.1 280.9h0M321.8 302.5h0" stroke="#9890b0" stroke-width="1.35" stroke-linecap="round" stroke-opacity="0.7"/><path d="M272.6 276.5h0M295.0 253.4h0M297.1 263.0h0M310.4 290.9h0M298.3 288.2h0M322.6 257.3h0" stroke="#9890b0" stroke-width="1.50" stroke-linecap="round" stroke-opacity="0.3"/><path d="M332.7 266.6h0M312.2 276.7h0M312.3 289.6h0M299.9 276.6h0M348.2 287.5h0M353.2 291.4h0M300.8 295.7h0M333.6 311.8h0M302.7 263.7h0M289.6 297.6h0M316.0 255.0h0M281.2 289.4h0M286.8 293.4h0" stroke="#9890b0" stroke-width="1.50" stroke-linecap="round" stroke-opacity="0.4"/><path d="M320.8 299.2h0M336.0 275.0h0M305.9 312.6h0M333.2 307.4h0" stroke="#9890b0" stroke-width="1.50" stroke-linecap="round" stroke-opacity="0.5"/><path d="M322.5 261.7h0M289.0 244.9h0M307.2 299.2h0M279.9 306.8h0M353.9 270.9h0M261.3 256.4h0M268.5 287.4h0" stroke="#9890b0" stroke-width="1.50" stroke-linecap="round" stroke-opacity="0.6"/><path d="M352.7 252.1h0M276.9 295.9h0M341.6 248.1h0" stroke="#9890b0" stroke-width="1.50" stroke-linecap="round" stroke-opacity="0.7"/><path d="M335.6 265.3h0M340.6 299.4h0M342.0 264.8h0M306.4 265.0h0M310.5 312.7h0M314.4 269.7h0M346.5 292.0h0" stroke="#9890b0" stroke-width="1.65" stroke-linecap="round" stroke-opacity="0.3"/><path d="M326.5 284.1h0M294.3 296.8h0M353.2 264.1h0M340.2 310.0h0M282.3 264.4h0M322.1 294.1h0" stroke="#9890b0" stroke-width="1.65" stroke-linecap="round" stroke-opacity="0.4"/><path d="M265.0 271.8h0M261.9 291.3h0M308.2 250.6h0M319.5 305.7h0M298.5 304.3h0M344.4 257.4h0" stroke="#9890b0" stroke-width="1.65" stroke-linecap="round" stroke-opacity="0.5"/><path d="M274.9 249.3h0M330.5 272.8h0M331.0 255.6h0M307.4 286.6h0M319.0 281.0h0M310.8 267.9h0M282.5 272.6h0M347.5 302.4h0M303.1 295.0h0M315.1 279.0h0M321.9 269.1h0" stroke="#9890b0" stroke-width="1.65" stroke-linecap="round" stroke-opacity="0.6"/><path d="M331.8 260.9h0M294.5 271.4h0M283.4 292.9h0M338.0 290.9h0M312.3 290.0h0M286.8 255.5h0" stroke="#9890b0" stroke-width="1.65" stroke-linecap="round" stroke-opacity="0.7"/><path d="M283.7 292.0h0M277.9 259.2h0M345.2 267.4h0M352.3 264.2h0M346.1 249.0h0M324.5 312.1h0" stroke="#9890b0" stroke-width="1.80" stroke-linecap="round" stroke-opacity="0.3"/><path d="M266.7 283.4h0M294.0 245.7h0M305.3 269.5h0M300.4 269.3h0M301.6 273.8h0M340.0 300.1h0" stroke="#9890b0" stroke-width="1.80" stroke-linecap="round" stroke-opacity="0.4"/><path d="M327.4 244.5h0M333.7 277.2h0M320.3 245.8h0M319.7 280.4h0M343.7 251.6h0" stroke="#9890b0" stroke-width="1.80" stroke-linecap="round" stroke-opacity="0.5"/><path d="M348.3 252.8h0M267.0 279.3h0M345.8 312.4h0M264.2 260.6h0M289.1 281.4h0M330.2 288.1h0M271.6 289.4h0M315.8 287.7h0" stroke="#9890b0" stroke-width="1.80" stroke-linecap="round" stroke-opacity="0.6"/><path d="M335.1 278.9h0" stroke="#9890b0" stroke-width="1.80" stroke-linecap="round" stroke-opacity="0.7"/><path d="M310.5 271.0h0" stroke="#9890b0" stroke-width="1.95" stroke-linecap="round" stroke-opacity="0.5"/><path d="M286.9 312.6h0" stroke="#9890b0" stroke-width="1.95" stroke-linecap="round" stroke-opacity="0.6"/><path d="M275.4 248.0h0" stroke="#9890b0" stroke-width="1.95" stroke-linecap="round" stroke-opacity="0.7"/><path d="M308.0 284.9h0M292.4 293.8h0M287.1 295.2h0" stroke="#a29cb8" stroke-width="1.05" stroke-linecap="round" stroke-opacity="0.3"/><path d="M309.1 268.3h0M321.7 301.3h0M305.1 312.1h0M313.5 275.0h0M302.5 254.4h0M315.0 308.7h0M299.0 272.7h0M300.6 267.6h0M266.3 252.6h0M297.9 258.1h0" stroke="#a29cb8" stroke-width="1.05" stroke-linecap="round" stroke-opacity="0.4"/><path d="M283.7 299.4h0M337.3 282.4h0M336.4 268.4h0M299.9 250.3h0M285.0 286.7h0M289.2 308.4h0M280.7 267.3h0M306.3 264.4h0" stroke="#a29cb8" stroke-width="1.05" stroke-linecap="round" stroke-opacity="0.5"/><path d="M308.7 287.8h0M298.8 268.6h0M284.9 294.1h0M292.6 274.4h0M269.4 266.1h0" stroke="#a29cb8" stroke-width="1.05" stroke-linecap="round" stroke-opacity="0.6"/><path d="M282.9 276.0h0M335.6 244.5h0M344.3 265.5h0" stroke="#a29cb8" stroke-width="1.05" stroke-linecap="round" stroke-opacity="0.7"/><path d="M314.4 286.3h0M340.6 261.0h0M324.3 296.3h0M319.8 304.1h0" stroke="#a29cb8" stroke-width="1.20" stroke-linecap="round" stroke-opacity="0.3"/><path d="M330.7 268.0h0M348.7 302.6h0M335.2 296.6h0M281.8 264.7h0M271.9 296.5h0M320.4 271.2h0M317.8 256.3h0M341.2 272.8h0M267.9 277.6h0M326.2 245.7h0" stroke="#a29cb8" stroke-width="1.20" stroke-linecap="round" stroke-opacity="0.4"/><path d="M315.6 257.3h0M335.4 301.9h0M343.7 247.0h0M289.6 303.6h0M299.9 282.7h0M313.4 303.9h0M309.7 258.5h0M336.6 282.3h0" stroke="#a29cb8" stroke-width="1.20" stroke-linecap="round" stroke-opacity="0.5"/><path d="M272.9 257.3h0M351.5 278.2h0M296.8 264.8h0M346.6 305.5h0M262.6 245.4h0M263.3 264.7h0M305.7 285.8h0M263.1 254.1h0" stroke="#a29cb8" stroke-width="1.20" stroke-linecap="round" stroke-opacity="0.6"/><path d="M307.7 249.9h0M270.0 300.9h0" stroke="#a29cb8" stroke-width="1.20" stroke-linecap="round" stroke-opacity="0.7"/><path d="M267.3 306.5h0M336.6 263.4h0" stroke="#a29cb8" stroke-width="1.35" stroke-linecap="round" stroke-opacity="0.3"/><path d="M262.2 282.8h0M352.7 300.2h0M292.0 281.0h0M338.4 279.8h0M285.1 283.3h0M283.3 246.5h0M301.4 307.0h0M272.6 257.2h0M334.3 270.0h0" stroke="#a29cb8" stroke-width="1.35" stroke-linecap="round" stroke-opacity="0.4"/><path d="M287.6 301.0h0M269.1 265.2h0M304.1 249.5h0M283.3 283.9h0M335.1 308.5h0M325.1 247.4h0M290.0 292.2h0" stroke="#a29cb8" stroke-width="1.35" stroke-linecap="round" stroke-opacity="0.5"/><path d="M310.9 261.4h0M273.0 273.3h0M290.7 292.8h0M346.9 266.6h0" stroke="#a29cb8" stroke-width="1.35" stroke-linecap="round" stroke-opacity="0.6"/><path d="M338.1 301.0h0" stroke="#a29cb8" stroke-width="1.35" stroke-linecap="round" stroke-opacity="0.7"/><path d="M285.3 256.4h0M267.9 287.1h0M348.6 277.3h0M267.4 247.1h0M338.7 311.4h0M294.2 288.1h0M316.1 283.6h0" stroke="#a29cb8" stroke-width="1.50" stroke-linecap="round" stroke-opacity="0.3"/><path d="M314.5 246.4h0M271.0 289.8h0M309.4 266.9h0M323.9 261.4h0M304.4 252.9h0" stroke="#a29cb8" stroke-width="1.50" stroke-linecap="round" stroke-opacity="0.4"/><path d="M354.2 256.4h0M344.3 302.1h0M320.9 297.4h0M310.2 309.3h0M322.6 270.3h0M293.7 298.3h0M297.0 262.4h0M317.4 256.6h0M330.4 262.1h0M323.1 265.6h0M327.8 277.3h0M314.8 291.1h0" stroke="#a29cb8" stroke-width="1.50" stroke-linecap="round" stroke-opacity="0.5"/><path d="M320.3 291.1h0M321.7 248.7h0M346.3 308.6h0M353.3 279.2h0M332.6 274.1h0M277.9 296.0h0M322.6 284.1h0M304.4 267.4h0M306.8 256.5h0" stroke="#a29cb8" stroke-width="1.50" stroke-linecap="round" stroke-opacity="0.6"/><path d="M298.2 260.1h0M344.0 271.1h0M315.3 301.3h0M347.4 253.4h0" stroke="#a29cb8" stroke-width="1.50" stroke-linecap="round" stroke-opacity="0.7"/><path d="M322.6 301.7h0" stroke="#a29cb8" stroke-width="1.65" stroke-linecap="round" stroke-opacity="0.3"/><path d="M314.9 298.5h0M278.3 246.7h0M310.7 290.5h0M319.6 268.6h0M329.1 290.1h0M294.6 304.0h0M268.0 259.5h0M265.5 296.9h0" stroke="#a29cb8" stroke-width="1.65" stroke-linecap="round" stroke-opacity="0.4"/><path d="M346.3 298.8h0M316.6 288.0h0M329.4 266.9h0" stroke="#a29cb8" stroke-width="1.65" stroke-linecap="round" stroke-opacity="0.5"/><path d="M282.7 261.3h0M350.8 313.1h0M290.7 251.8h0M279.5 269.1h0M333.1 310.6h0M324.1 303.4h0M317.8 273.2h0M284.9 254.7h0" stroke="#a29cb8" stroke-width="1.65" stroke-linecap="round" stroke-opacity="0.6"/><path d="M269.8 300.4h0M350.8 247.7h0" stroke="#a29cb8" stroke-width="1.65" stroke-linecap="round" stroke-opacity="0.7"/><path d="M326.2 248.9h0M351.6 271.9h0M271.7 253.8h0M266.8 280.4h0M330.4 307.5h0" stroke="#a29cb8" stroke-width="1.80" stroke-linecap="round" stroke-opacity="0.3"/><path d="M325.5 252.2h0M321.1 264.2h0M305.4 304.3h0M347.0 246.7h0M335.6 301.3h0M314.8 310.2h0M267.4 277.8h0M310.9 287.5h0M323.7 305.0h0" stroke="#a29cb8" stroke-width="1.80" stroke-linecap="round" stroke-opacity="0.4"/><path d="M312.8 253.4h0M330.7 262.5h0M301.3 271.1h0M333.9 253.4h0M295.9 299.7h0M282.6 287.7h0M313.4 279.2h0M343.9 261.8h0M325.1 255.1h0M268.9 282.4h0" stroke="#a29cb8" stroke-width="1.80" stroke-linecap="round" stroke-opacity="0.5"/><path d="M328.3 265.5h0M303.3 304.2h0M313.6 300.7h0M346.8 267.9h0M280.4 245.2h0M334.1 294.3h0M289.6 281.9h0M308.4 281.6h0M266.2 255.3h0M345.4 288.9h0M350.4 281.0h0" stroke="#a29cb8" stroke-width="1.80" stroke-linecap="round" stroke-opacity="0.6"/><path d="M262.8 310.5h0M283.5 294.9h0" stroke="#a29cb8" stroke-width="1.80" stroke-linecap="round" stroke-opacity="0.7"/><path d="M269.6 271.5h0M265.5 248.2h0" stroke="#a29cb8" stroke-width="1.95" stroke-linecap="round" stroke-opacity="0.3"/><path d="M278.9 304.1h0" stroke="#a29cb8" stroke-width="1.95" stroke-linecap="round" stroke-opacity="0.4"/><path d="M346.6 280.8h0" stroke="#a29cb8" stroke-width="1.95" stroke-linecap="round" stroke-opacity="0.5"/><path d="M313.0 260.7h0M307.8 249.4h0M334.7 253.1h0" stroke="#a29cb8" stroke-width="1.95" stroke-linecap="round" stroke-opacity="0.6"/><path d="M306.4 246.2h0M322.7 285.9h0" stroke="#a29cb8" stroke-width="1.95" stroke-linecap="round" stroke-opacity="0.7"/><path d="M351.6 249.6h0M348.2 282.2h0M352.8 302.2h0" stroke="#aca6c0" stroke-width="1.05" stroke-linecap="round" stroke-opacity="0.3"/><path d="M282.8 300.0h0M312.5 255.2h0M303.7 261.0h0M343.7 310.3h0M314.4 248.1h0M313.3 249.3h0" stroke="#aca6c0" stroke-width="1.05" stroke-linecap="round" stroke-opacity="0.4"/><path d="M316.0 296.3h0M317.3 254.4h0M288.4 265.1h0" stroke="#aca6c0" stroke-width="1.05" stroke-linecap="round" stroke-opacity="0.5"/><path d="M324.1 285.8h0M341.7 283.1h0" stroke="#aca6c0" stroke-width="1.05" stroke-linecap="round" stroke-opacity="0.6"/><path d="M333.3 244.1h0M283.8 248.2h0M300.4 277.2h0M265.7 250.2h0M321.7 280.8h0M353.5 312.9h0M277.7 287.9h0" stroke="#aca6c0" stroke-width="1.05" stroke-linecap="round" stroke-opacity="0.7"/><path d="M295.9 272.8h0M290.0 251.4h0M343.5 267.7h0M261.6 269.9h0" stroke="#aca6c0" stroke-width="1.20" stroke-linecap="round" stroke-opacity="0.3"/><path d="M297.6 281.5h0M307.9 300.8h0M292.9 310.6h0M274.1 297.6h0M283.8 278.5h0M340.6 262.7h0" stroke="#aca6c0" stroke-width="1.20" stroke-linecap="round" stroke-opacity="0.4"/><path d="M300.8 245.1h0M272.9 270.6h0M344.9 289.7h0M309.5 265.6h0M263.8 265.3h0M321.4 276.2h0" stroke="#aca6c0" stroke-width="1.20" stroke-linecap="round" stroke-opacity="0.5"/><path d="M344.6 259.2h0M268.4 312.2h0M308.8 305.3h0M329.1 304.7h0M266.2 282.1h0M309.6 250.2h0M348.1 280.2h0M266.4 305.4h0M345.8 256.9h0M281.4 280.5h0M263.4 249.0h0" stroke="#aca6c0" stroke-width="1.20" stroke-linecap="round" stroke-opacity="0.6"/><path d="M310.9 251.9h0M319.9 250.4h0M305.8 251.2h0" stroke="#aca6c0" stroke-width="1.20" stroke-linecap="round" stroke-opacity="0.7"/><path d="M312.1 246.4h0M304.5 268.9h0M330.5 308.5h0M295.6 295.1h0" stroke="#aca6c0" stroke-width="1.35" stroke-linecap="round" stroke-opacity="0.3"/><path d="M270.5 280.1h0M293.5 263.5h0M345.1 269.8h0M352.9 268.4h0M301.4 306.8h0M278.1 311.6h0M315.4 256.2h0" stroke="#aca6c0" stroke-width="1.35" stroke-linecap="round" stroke-opacity="0.4"/><path d="M345.0 253.2h0M305.1 258.6h0M352.1 293.3h0M276.3 263.0h0M287.2 307.5h0" stroke="#aca6c0" stroke-width="1.35" stroke-linecap="round" stroke-opacity="0.5"/><path d="M329.8 299.8h0M304.6 282.5h0M339.3 246.8h0M313.4 265.2h0M332.0 262.1h0M280.9 262.0h0" stroke="#aca6c0" stroke-width="1.35" stroke-linecap="round" stroke-opacity="0.6"/><path d="M276.0 244.3h0M334.1 263.7h0M294.0 291.0h0M323.7 277.6h0M316.0 250.4h0" stroke="#aca6c0" stroke-width="1.35" stroke-linecap="round" stroke-opacity="0.7"/><path d="M345.5 259.1h0M303.2 285.6h0" stroke="#aca6c0" stroke-width="1.50" stroke-linecap="round" stroke-opacity="0.3"/><path d="M261.3 263.7h0M311.7 295.9h0M319.1 312.7h0M291.0 288.8h0M346.6 247.8h0" stroke="#aca6c0" stroke-width="1.50" stroke-linecap="round" stroke-opacity="0.4"/><path d="M280.2 291.0h0M298.3 255.0h0M345.4 290.8h0M266.2 268.7h0M345.8 265.6h0M271.6 286.5h0M328.3 245.9h0M331.5 313.2h0M282.0 271.3h0M292.1 288.4h0M299.3 246.0h0M307.0 268.5h0" stroke="#aca6c0" stroke-width="1.50" stroke-linecap="round" stroke-opacity="0.5"/><path d="M318.3 265.2h0M278.3 284.7h0M265.0 307.0h0M307.7 291.5h0M322.5 311.0h0M352.3 305.4h0M263.2 274.8h0M262.5 283.1h0M336.7 248.7h0M331.6 301.0h0M263.5 270.3h0M328.8 284.5h0M348.3 277.1h0M267.7 302.1h0M313.5 259.6h0" stroke="#aca6c0" stroke-width="1.50" stroke-linecap="round" stroke-opacity="0.6"/><path d="M323.5 299.7h0M289.7 277.9h0M344.2 297.7h0M334.0 303.8h0M284.0 301.7h0M300.3 292.6h0M265.9 288.4h0" stroke="#aca6c0" stroke-width="1.50" stroke-linecap="round" stroke-opacity="0.7"/><path d="M304.3 246.7h0M328.2 312.0h0M308.1 263.9h0M319.9 276.2h0" stroke="#aca6c0" stroke-width="1.65" stroke-linecap="round" stroke-opacity="0.3"/><path d="M310.5 275.4h0M320.9 257.5h0M343.1 278.0h0M308.8 305.6h0M319.2 265.9h0M296.1 310.2h0M319.8 274.8h0" stroke="#aca6c0" stroke-width="1.65" stroke-linecap="round" stroke-opacity="0.4"/><path d="M350.8 304.3h0M319.6 270.7h0M295.8 260.9h0M323.9 278.8h0M279.5 303.7h0M315.0 261.1h0M296.9 309.1h0M323.3 291.2h0M281.1 273.2h0M275.8 279.1h0" stroke="#aca6c0" stroke-width="1.65" stroke-linecap="round" stroke-opacity="0.5"/><path d="M293.5 254.0h0M340.2 272.9h0M320.3 288.4h0M339.1 246.5h0M347.8 301.0h0M325.7 299.5h0M284.4 249.1h0M273.4 304.9h0M279.8 246.5h0M349.8 246.5h0M308.9 289.8h0M332.5 254.6h0M346.0 289.9h0" stroke="#aca6c0" stroke-width="1.65" stroke-linecap="round" stroke-opacity="0.6"/><path d="M339.9 244.8h0M297.6 249.1h0M289.0 274.7h0M342.7 267.4h0M317.8 254.6h0" stroke="#aca6c0" stroke-width="1.65" stroke-linecap="round" stroke-opacity="0.7"/><path d="M261.8 252.7h0M275.6 244.7h0M342.9 296.5h0M345.5 290.6h0M316.0 278.4h0" stroke="#aca6c0" stroke-width="1.80" stroke-linecap="round" stroke-opacity="0.3"/><path d="M285.0 264.4h0M330.3 292.9h0M286.5 286.6h0M325.6 269.0h0" stroke="#aca6c0" stroke-width="1.80" stroke-linecap="round" stroke-opacity="0.4"/><path d="M350.2 302.7h0M351.8 294.3h0M322.2 262.6h0M337.5 261.9h0M263.7 296.7h0M342.7 308.2h0M316.7 310.7h0M335.7 253.1h0M283.0 286.8h0" stroke="#aca6c0" stroke-width="1.80" stroke-linecap="round" stroke-opacity="0.5"/><path d="M282.3 279.3h0M265.6 248.5h0M354.2 280.4h0M345.6 273.5h0M263.8 289.8h0M266.1 260.7h0M309.8 272.0h0M351.4 305.8h0M348.3 247.5h0M272.9 311.0h0" stroke="#aca6c0" stroke-width="1.80" stroke-linecap="round" stroke-opacity="0.6"/><path d="M321.8 247.1h0M278.7 259.0h0M344.5 286.0h0" stroke="#aca6c0" stroke-width="1.80" stroke-linecap="round" stroke-opacity="0.7"/><path d="M347.9 252.0h0M343.6 276.8h0" stroke="#aca6c0" stroke-width="1.95" stroke-linecap="round" stroke-opacity="0.4"/><path d="M345.1 247.9h0" stroke="#aca6c0" stroke-width="1.95" stroke-linecap="round" stroke-opacity="0.5"/><path d="M338.1 311.9h0" stroke="#aca6c0" stroke-width="1.95" stroke-linecap="round" stroke-opacity="0.6"/><path d="M268.3 263.2h0M315.5 252.7h0" stroke="#b4aec4" stroke-width="1.05" stroke-linecap="round" stroke-opacity="0.3"/><path d="M287.0 265.4h0M293.4 306.8h0M301.2 258.5h0M262.8 312.3h0" stroke="#b4aec4" stroke-width="1.05" stroke-linecap="round" stroke-opacity="0.4"/><path d="M277.2 264.7h0M328.1 252.3h0M286.4 288.1h0M346.1 309.5h0" stroke="#b4aec4" stroke-width="1.05" stroke-linecap="round" stroke-opacity="0.5"/><path d="M324.7 287.9h0M280.7 288.7h0M265.7 253.1h0M280.3 303.4h0M266.3 302.7h0M336.2 312.3h0" stroke="#b4aec4" stroke-width="1.05" stroke-linecap="round" stroke-opacity="0.6"/><path d="M284.9 290.2h0" stroke="#b4aec4" stroke-width="1.05" stroke-linecap="round" stroke-opacity="0.7"/><path d="M264.1 276.0h0M329.9 275.9h0M313.5 307.5h0" stroke="#b4aec4" stroke-width="1.20" stroke-linecap="round" stroke-opacity="0.3"/><path d="M334.5 252.6h0M341.8 263.0h0M335.9 269.1h0M275.3 296.2h0M329.1 257.9h0M273.5 248.0h0M272.8 257.3h0M349.8 273.9h0M330.9 279.0h0M308.1 302.0h0M314.1 244.3h0M330.4 264.3h0M329.2 283.8h0" stroke="#b4aec4" stroke-width="1.20" stroke-linecap="round" stroke-opacity="0.4"/><path d="M261.6 263.2h0M281.5 279.3h0M333.0 272.1h0M325.4 312.7h0M301.8 294.0h0" stroke="#b4aec4" stroke-width="1.20" stroke-linecap="round" stroke-opacity="0.5"/><path d="M270.4 286.5h0M284.5 278.2h0M285.3 301.7h0M307.4 298.7h0M301.0 276.6h0M327.9 260.6h0M334.7 310.6h0M269.4 309.0h0" stroke="#b4aec4" stroke-width="1.20" stroke-linecap="round" stroke-opacity="0.6"/><path d="M263.8 307.5h0M313.9 261.0h0M305.4 305.8h0M302.9 284.0h0" stroke="#b4aec4" stroke-width="1.20" stroke-linecap="round" stroke-opacity="0.7"/><path d="M295.5 266.5h0M343.0 264.8h0M306.1 250.1h0" stroke="#b4aec4" stroke-width="1.35" stroke-linecap="round" stroke-opacity="0.3"/><path d="M295.9 251.3h0M266.0 299.7h0M265.6 260.5h0M294.7 263.5h0M271.8 273.5h0M327.5 284.5h0M321.3 305.6h0M334.0 304.0h0" stroke="#b4aec4" stroke-width="1.35" stroke-linecap="round" stroke-opacity="0.4"/><path d="M305.2 282.8h0M307.6 308.0h0M332.8 310.3h0M275.5 284.6h0M289.0 305.2h0M270.0 248.6h0M313.8 278.9h0" stroke="#b4aec4" stroke-width="1.35" stroke-linecap="round" stroke-opacity="0.5"/><path d="M291.3 265.7h0M320.7 305.9h0M312.3 272.7h0M350.4 283.3h0M299.0 289.4h0M264.0 286.1h0M319.8 309.5h0M348.4 281.8h0M277.2 274.2h0M297.3 279.9h0" stroke="#b4aec4" stroke-width="1.35" stroke-linecap="round" stroke-opacity="0.6"/><path d="M324.7 290.2h0M292.5 262.3h0M301.1 271.4h0" stroke="#b4aec4" stroke-width="1.35" stroke-linecap="round" stroke-opacity="0.7"/><path d="M284.5 259.0h0M322.7 273.2h0M325.0 300.3h0" stroke="#b4aec4" stroke-width="1.50" stroke-linecap="round" stroke-opacity="0.3"/><path d="M334.0 308.1h0M299.3 245.4h0M347.3 293.8h0M330.1 286.4h0M277.5 294.6h0M265.1 276.1h0M323.3 284.3h0M320.6 254.6h0M310.1 258.0h0M306.5 258.2h0" stroke="#b4aec4" stroke-width="1.50" stroke-linecap="round" stroke-opacity="0.4"/><path d="M272.8 260.8h0M352.2 271.9h0M297.4 249.6h0M333.6 258.7h0M341.4 276.7h0M274.9 254.4h0M284.4 292.7h0M292.0 308.3h0M347.1 268.0h0M284.1 308.3h0M300.5 311.8h0M306.9 265.0h0" stroke="#b4aec4" stroke-width="1.50" stroke-linecap="round" stroke-opacity="0.5"/><path d="M283.2 258.8h0M277.8 288.6h0M277.0 258.6h0M262.2 279.2h0M349.3 306.7h0M293.6 255.7h0M291.3 290.6h0M317.1 248.4h0" stroke="#b4aec4" stroke-width="1.50" stroke-linecap="round" stroke-opacity="0.6"/><path d="M351.3 288.1h0M327.0 265.2h0M269.2 298.6h0" stroke="#b4aec4" stroke-width="1.50" stroke-linecap="round" stroke-opacity="0.7"/><path d="M302.1 252.2h0M302.8 287.6h0M330.6 252.8h0M320.4 302.9h0M328.2 311.2h0M273.5 310.3h0M347.2 244.4h0" stroke="#b4aec4" stroke-width="1.65" stroke-linecap="round" stroke-opacity="0.3"/><path d="M342.9 252.8h0M264.5 311.3h0M345.9 280.6h0M267.6 292.0h0M310.1 245.2h0M340.5 278.9h0" stroke="#b4aec4" stroke-width="1.65" stroke-linecap="round" stroke-opacity="0.4"/><path d="M341.5 261.9h0M346.6 252.7h0" stroke="#b4aec4" stroke-width="1.65" stroke-linecap="round" stroke-opacity="0.5"/><path d="M310.9 272.9h0M323.7 293.1h0M332.5 271.7h0" stroke="#b4aec4" stroke-width="1.65" stroke-linecap="round" stroke-opacity="0.6"/><path d="M352.1 254.7h0" stroke="#b4aec4" stroke-width="1.65" stroke-linecap="round" stroke-opacity="0.7"/><path d="M298.1 282.0h0M312.5 262.7h0M295.4 295.7h0M289.0 260.4h0" stroke="#b4aec4" stroke-width="1.80" stroke-linecap="round" stroke-opacity="0.3"/><path d="M326.8 295.5h0M348.5 278.3h0M321.4 268.6h0M312.2 256.9h0M333.8 297.1h0M294.4 306.6h0M352.5 275.9h0M273.9 257.1h0M335.1 276.9h0" stroke="#b4aec4" stroke-width="1.80" stroke-linecap="round" stroke-opacity="0.4"/><path d="M297.7 312.1h0M266.0 255.6h0M299.5 273.8h0M349.0 286.1h0M333.4 261.3h0M276.1 248.1h0" stroke="#b4aec4" stroke-width="1.80" stroke-linecap="round" stroke-opacity="0.5"/><path d="M305.1 274.2h0M282.8 305.1h0M302.1 286.9h0M353.2 251.1h0M348.3 286.1h0M313.4 251.4h0M352.6 280.2h0M271.8 260.9h0" stroke="#b4aec4" stroke-width="1.80" stroke-linecap="round" stroke-opacity="0.6"/><path d="M306.1 254.5h0M273.5 247.9h0M292.5 292.0h0M349.9 311.1h0" stroke="#b4aec4" stroke-width="1.80" stroke-linecap="round" stroke-opacity="0.7"/><path d="M272.0 289.7h0M351.0 287.8h0" stroke="#b4aec4" stroke-width="1.95" stroke-linecap="round" stroke-opacity="0.3"/><path d="M307.1 306.7h0M340.6 299.6h0M312.1 269.4h0" stroke="#b4aec4" stroke-width="1.95" stroke-linecap="round" stroke-opacity="0.5"/><path d="M273.8 306.8h0" stroke="#b4aec4" stroke-width="1.95" stroke-linecap="round" stroke-opacity="0.7"/>
<ellipse cx="166" cy="210" rx="4" ry="10" fill="#dcdad8" opacity="0.45"/>
<ellipse cx="248" cy="206" rx="6" ry="5" fill="#dcdad8" opacity="0.5"/>
<path d="M100.5,190 L105,191.5 L112,190.5 L116,187.5 L118,185.5 L120.4,184.5 L122.4,186 L121,188 L118,189 L116,191.5 L114.4,195 L112,199.4 L109.5,203.4 L107.5,205.4 L105.5,204 L103.5,199 L102,194 Z" fill="#e4ebe4" stroke="#e4ebe4" stroke-width="0.6" stroke-linejoin="round"/>
<ellipse cx="206.4" cy="192.4" rx="6.6" ry="8.6" transform="rotate(20 206.4 192.4)" fill="#dedfd8"/>
<ellipse cx="302" cy="193.8" rx="6.6" ry="9" transform="rotate(18 302 193.8)" fill="#e6e6e2"/>
<path d="M107.6,281 C107.2,278 109.5,275.6 112.5,275.4 C115.5,275.2 117.8,277 117.4,279.5 C117.2,281 115,281.3 112.5,281.2 Z" fill="#eeeee8"/>
<ellipse cx="210.8" cy="276.3" rx="5.2" ry="3.3" transform="rotate(-20 210.8 276.3)" fill="#e0e0dc"/>
<ellipse cx="308.8" cy="276.9" rx="4.6" ry="3.6" transform="rotate(-25 308.8 276.9)" fill="#dcdbd6"/>
<path d="M143.5,170.5 Q146,176 146.2,182 T147.5,196 T149.8,210 T150.8,221 T151.2,232" fill="none" stroke="#f2e2ee" stroke-width="1.3" opacity="0.9" stroke-dasharray="6 1.5 9 2 5 1.5"/>
<ellipse cx="145" cy="171" rx="1.8" ry="1.5" fill="#f4e4ee" opacity="0.9"/>
<circle cx="221.1" cy="203.5" r="0.85" fill="#b07040" opacity="0.7"/>
<circle cx="236.0" cy="187.3" r="0.85" fill="#b07040" opacity="0.7"/>
<circle cx="233.7" cy="208.1" r="0.85" fill="#b07040" opacity="0.7"/>
<circle cx="236.0" cy="215.0" r="0.85" fill="#b07040" opacity="0.7"/>
<circle cx="226.8" cy="219.6" r="0.85" fill="#b07040" opacity="0.7"/>
<circle cx="217.6" cy="231.1" r="0.85" fill="#b07040" opacity="0.7"/>
<circle cx="203.8" cy="213.8" r="0.85" fill="#b07040" opacity="0.7"/>
<circle cx="190.0" cy="228.8" r="0.85" fill="#b07040" opacity="0.7"/>
<circle cx="194.6" cy="215.0" r="0.85" fill="#b07040" opacity="0.7"/>
<circle cx="199.2" cy="206.9" r="0.85" fill="#b07040" opacity="0.7"/>
<circle cx="192.3" cy="201.2" r="0.85" fill="#b07040" opacity="0.7"/>
<circle cx="169.2" cy="219.6" r="0.85" fill="#b07040" opacity="0.7"/>
<circle cx="240.6" cy="221.9" r="0.85" fill="#b07040" opacity="0.7"/>
<circle cx="211.8" cy="198.9" r="0.85" fill="#b07040" opacity="0.7"/>
<circle cx="224.5" cy="183.9" r="0.85" fill="#b07040" opacity="0.7"/>
<circle cx="217.6" cy="183.9" r="0.85" fill="#b07040" opacity="0.7"/>
<circle cx="164.6" cy="233.4" r="0.85" fill="#b07040" opacity="0.7"/>
<circle cx="216.5" cy="189.6" r="0.85" fill="#b07040" opacity="0.7"/>
<circle cx="217.6" cy="195.4" r="0.85" fill="#b07040" opacity="0.7"/>
<circle cx="222.2" cy="196.6" r="0.85" fill="#b07040" opacity="0.7"/>
<circle cx="203.8" cy="205.8" r="0.85" fill="#b07040" opacity="0.7"/>
<circle cx="206.1" cy="217.3" r="0.85" fill="#b07040" opacity="0.7"/>
<circle cx="204.9" cy="221.9" r="0.85" fill="#b07040" opacity="0.7"/>
<circle cx="187.6" cy="221.9" r="0.85" fill="#b07040" opacity="0.7"/>
<circle cx="179.6" cy="231.1" r="0.85" fill="#b07040" opacity="0.7"/>
<circle cx="184.2" cy="231.1" r="0.85" fill="#b07040" opacity="0.7"/>
<circle cx="215.3" cy="224.2" r="0.85" fill="#b07040" opacity="0.7"/>
<circle cx="233.7" cy="215.0" r="0.85" fill="#b07040" opacity="0.7"/>
<circle cx="236.0" cy="208.1" r="0.85" fill="#b07040" opacity="0.7"/>
<circle cx="224.5" cy="208.1" r="0.85" fill="#b07040" opacity="0.7"/>
<circle cx="217.6" cy="210.4" r="0.85" fill="#b07040" opacity="0.7"/>
<circle cx="173.8" cy="201.2" r="0.85" fill="#b07040" opacity="0.7"/>
<circle cx="229.1" cy="194.3" r="0.85" fill="#b07040" opacity="0.7"/>
<circle cx="195.7" cy="200.0" r="0.85" fill="#b07040" opacity="0.7"/>
<circle cx="201.5" cy="228.8" r="0.85" fill="#b07040" opacity="0.7"/>
<circle cx="219.9" cy="231.1" r="0.85" fill="#b07040" opacity="0.7"/>
<circle cx="166.9" cy="215.0" r="0.85" fill="#b07040" opacity="0.7"/>
<circle cx="209.5" cy="209.2" r="0.85" fill="#b07040" opacity="0.7"/>
<circle cx="194.6" cy="211.5" r="0.85" fill="#b07040" opacity="0.7"/>
<circle cx="240.6" cy="201.2" r="0.85" fill="#b07040" opacity="0.7"/>
<circle cx="247.6" cy="219.6" r="0.85" fill="#b07040" opacity="0.7"/>
<circle cx="216.2" cy="190.3" r="1.1" fill="#a86030"/>
<defs><filter id="bl5" x="-50%" y="-50%" width="200%" height="200%"><feGaussianBlur stdDeviation="0.45"/></filter></defs><g filter="url(#bl5)">
<ellipse cx="289.9" cy="207.5" rx="1.37" ry="1.69" fill="#b06a30" fill-opacity="0.9"/>
<ellipse cx="283.1" cy="211" rx="1.05" ry="1.30" fill="#b87a40" fill-opacity="0.9"/>
<ellipse cx="291.2" cy="217.4" rx="1.58" ry="1.95" fill="#8a4018" fill-opacity="0.9"/>
<ellipse cx="285.6" cy="220.6" rx="1.26" ry="1.56" fill="#b06a38" fill-opacity="0.9"/>
<ellipse cx="281.2" cy="221.8" rx="0.95" ry="1.17" fill="#b88050" fill-opacity="0.9"/>
<ellipse cx="288" cy="224.3" rx="1.26" ry="1.56" fill="#b87a48" fill-opacity="0.9"/>
<ellipse cx="299.3" cy="225" rx="0.95" ry="1.17" fill="#b88050" fill-opacity="0.9"/>
<ellipse cx="276.8" cy="226.8" rx="0.84" ry="1.04" fill="#b88050" fill-opacity="0.9"/>
<ellipse cx="279.3" cy="232.0" rx="2.10" ry="2.60" fill="#702a08" fill-opacity="0.9"/>
<ellipse cx="266.2" cy="196.2" rx="0.84" ry="1.04" fill="#b88050" fill-opacity="0.9"/>
<ellipse cx="275.6" cy="203.7" rx="0.63" ry="0.78" fill="#b88050" fill-opacity="0.9"/>
<ellipse cx="313.7" cy="222.4" rx="1.47" ry="1.82" fill="#a05020" fill-opacity="0.9"/>
<ellipse cx="321.8" cy="223.4" rx="1.16" ry="1.43" fill="#a85a28" fill-opacity="0.9"/>
<ellipse cx="333" cy="223.7" rx="1.58" ry="1.95" fill="#8a3810" fill-opacity="0.9"/>
<ellipse cx="344.3" cy="226.8" rx="0.95" ry="1.17" fill="#b88050" fill-opacity="0.9"/>
<ellipse cx="316.8" cy="204.4" rx="0.63" ry="0.78" fill="#b89070" fill-opacity="0.9"/>
<ellipse cx="267.7" cy="183.2" rx="0.73" ry="0.91" fill="#b88050" fill-opacity="0.9"/>
<ellipse cx="275.4" cy="184" rx="0.63" ry="0.78" fill="#b88050" fill-opacity="0.9"/>
<ellipse cx="278.5" cy="184" rx="0.63" ry="0.78" fill="#b88050" fill-opacity="0.9"/>
<ellipse cx="292.3" cy="187.8" rx="0.73" ry="0.91" fill="#b07040" fill-opacity="0.9"/>
<ellipse cx="261.5" cy="189.4" rx="0.63" ry="0.78" fill="#b88050" fill-opacity="0.9"/>
<ellipse cx="266.2" cy="195.5" rx="0.63" ry="0.78" fill="#b88050" fill-opacity="0.9"/>
<ellipse cx="306.2" cy="166.3" rx="0.84" ry="1.04" fill="#b07040" fill-opacity="0.9"/>
<ellipse cx="331.5" cy="165.8" rx="0.84" ry="1.04" fill="#b07040" fill-opacity="0.9"/>
</g>
<text x="44.33" y="202.9" font-size="8" font-weight="normal" font-style="normal" fill="#1a1a1a" textLength="16.86" lengthAdjust="spacingAndGlyphs" stroke="#1a1a1a" stroke-width="0.2" >PBS</text>
<text x="20.77" y="282.3" font-size="8" font-weight="normal" font-style="normal" fill="#1a1a1a" textLength="40.07" lengthAdjust="spacingAndGlyphs" stroke="#1a1a1a" stroke-width="0.2" >Bortezomib</text>
<text x="71.99" y="176.8" font-size="7.1" font-weight="normal" font-style="normal" fill="#111" textLength="10.54" lengthAdjust="spacingAndGlyphs" stroke="#111" stroke-width="0.2" >HE</text>
<text x="171.09" y="176.9" font-size="7.29" font-weight="normal" font-style="normal" fill="#111" textLength="35.94" lengthAdjust="spacingAndGlyphs" stroke="#111" stroke-width="0.2" >EBER-ISH</text>
<text x="268.41" y="177" font-size="7.54" font-weight="normal" font-style="normal" fill="#111" textLength="19.38" lengthAdjust="spacingAndGlyphs" stroke="#111" stroke-width="0.2" >LMP1</text>
<text x="70.69" y="253.7" font-size="7.25" font-weight="normal" font-style="normal" fill="#111" textLength="10.65" lengthAdjust="spacingAndGlyphs" stroke="#111" stroke-width="0.2" >HE</text>
<text x="171.08" y="253.7" font-size="7.14" font-weight="normal" font-style="normal" fill="#111" textLength="36.46" lengthAdjust="spacingAndGlyphs" stroke="#111" stroke-width="0.2" >EBER-ISH</text>
<text x="268.41" y="253.8" font-size="7.68" font-weight="normal" font-style="normal" fill="#111" textLength="19.38" lengthAdjust="spacingAndGlyphs" stroke="#111" stroke-width="0.2" >LMP1</text>
<rect x="0" y="0" width="1.3" height="321" fill="#000"/><rect x="0" y="0" width="520" height="1.15" fill="#000"/><rect x="518.6" y="0" width="1.4" height="321" fill="#000"/><rect x="0" y="319.5" width="520" height="1.5" fill="#000"/>
</svg>
</body></html>
